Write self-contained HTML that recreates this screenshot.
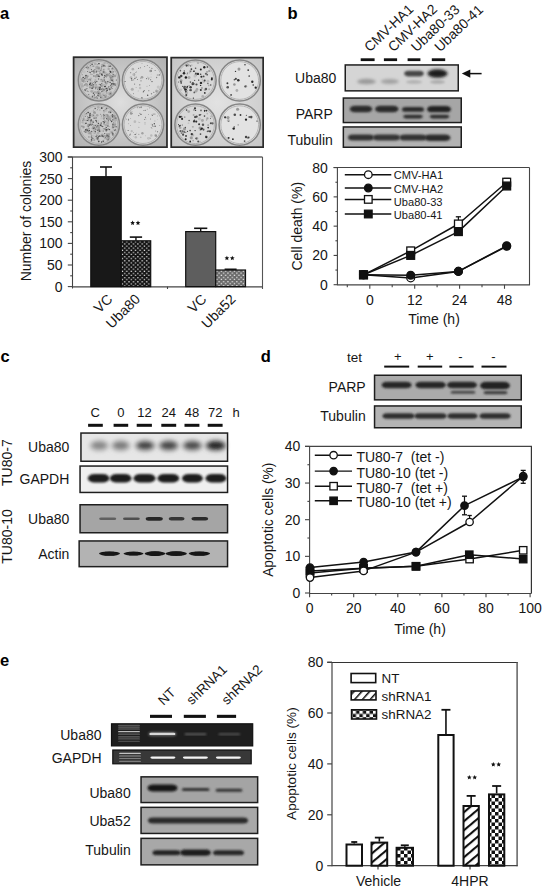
<!DOCTYPE html>
<html><head><meta charset="utf-8"><title>Figure</title>
<style>
html,body{margin:0;padding:0;background:#fff;width:543px;height:890px;overflow:hidden}
svg{display:block}
text{font-family:"Liberation Sans",sans-serif}
</style></head><body>
<svg width="543" height="890" viewBox="0 0 543 890">
<rect width="543" height="890" fill="#fff"/>

<defs>
<filter id="b0_4" x="-10%" y="-10%" width="120%" height="120%"><feGaussianBlur stdDeviation="0.4"/></filter>
<filter id="b0_5" x="-50%" y="-50%" width="200%" height="200%"><feGaussianBlur stdDeviation="0.5"/></filter>
<filter id="b0_6" x="-50%" y="-50%" width="200%" height="200%"><feGaussianBlur stdDeviation="0.6"/></filter>
<filter id="b0_7" x="-50%" y="-50%" width="200%" height="200%"><feGaussianBlur stdDeviation="0.7"/></filter>
<filter id="b0_8" x="-50%" y="-50%" width="200%" height="200%"><feGaussianBlur stdDeviation="0.8"/></filter>
<filter id="b0_9" x="-50%" y="-50%" width="200%" height="200%"><feGaussianBlur stdDeviation="0.9"/></filter>
<filter id="b1" x="-50%" y="-50%" width="200%" height="200%"><feGaussianBlur stdDeviation="1"/></filter>
<filter id="b1_1" x="-50%" y="-50%" width="200%" height="200%"><feGaussianBlur stdDeviation="1.1"/></filter>
<filter id="b1_2" x="-50%" y="-50%" width="200%" height="200%"><feGaussianBlur stdDeviation="1.2"/></filter>
<filter id="b1_3" x="-50%" y="-50%" width="200%" height="200%"><feGaussianBlur stdDeviation="1.3"/></filter>
<filter id="b1_4" x="-50%" y="-50%" width="200%" height="200%"><feGaussianBlur stdDeviation="1.4"/></filter>
<filter id="b1_5" x="-50%" y="-50%" width="200%" height="200%"><feGaussianBlur stdDeviation="1.5"/></filter>
<filter id="b2" x="-50%" y="-50%" width="200%" height="200%"><feGaussianBlur stdDeviation="2"/></filter>
<radialGradient id="pg1" cx="50%" cy="50%" r="70%"><stop offset="0" stop-color="#dedede"/><stop offset="1" stop-color="#b0b0b0"/></radialGradient>
<radialGradient id="pg2" cx="50%" cy="50%" r="70%"><stop offset="0" stop-color="#e2e2e2"/><stop offset="1" stop-color="#c6c6c6"/></radialGradient>
<pattern id="dotblk" patternUnits="userSpaceOnUse" width="4.4" height="4.2" x="121.2" y="240.8"><rect x="0.6" y="0.5" width="1.3" height="1.2" fill="#e6e6e6"/><rect x="2.8" y="2.6" width="1.3" height="1.2" fill="#e6e6e6"/></pattern>
<pattern id="dotgry" patternUnits="userSpaceOnUse" width="4.4" height="4.2" x="215.7" y="270"><rect x="0.6" y="0.5" width="1.3" height="1.2" fill="#f0f0f0"/><rect x="2.8" y="2.6" width="1.3" height="1.2" fill="#f0f0f0"/></pattern>
<pattern id="hatch" patternUnits="userSpaceOnUse" width="6.9" height="6.9" y="1.7" patternTransform="rotate(-40)">
<rect width="6.9" height="6.9" fill="#fff"/><rect x="0" y="0" width="6.9" height="2.1" fill="#111"/></pattern>
<pattern id="hatch2" patternUnits="userSpaceOnUse" width="5.8" height="5.8" patternTransform="rotate(-48)">
<rect width="5.8" height="5.8" fill="#fff"/><rect x="0" y="0" width="5.8" height="1.5" fill="#111"/></pattern>
<pattern id="check" patternUnits="userSpaceOnUse" width="7" height="7" x="488" y="0">
<rect width="7" height="7" fill="#fff"/><rect width="3.5" height="3.5" fill="#111"/><rect x="3.5" y="3.5" width="3.5" height="3.5" fill="#111"/></pattern>
<pattern id="check2" patternUnits="userSpaceOnUse" width="6.8" height="6.6" x="352.6" y="710.6">
<rect width="6.8" height="6.6" fill="#fff"/><rect x="3.4" width="3.4" height="3.3" fill="#111"/><rect y="3.3" width="3.4" height="3.3" fill="#111"/></pattern>
</defs>
<text x="0" y="18.8" font-size="16.5" text-anchor="start" font-weight="bold" fill="#000">a</text>
<g>
<rect x="72.8" y="56.4" width="95" height="91.6" fill="url(#pg1)" stroke="none" stroke-width="1"/>
<g filter="url(#b0_4)">
<circle cx="98.9" cy="80.3" r="20.6" fill="#cacaca" stroke="#858585" stroke-width="1.5"/>
<circle cx="98.9" cy="80.3" r="18.9" fill="none" stroke="#a8a8a8" stroke-width="0.8"/>
<circle cx="95.8" cy="86.6" r="0.74" fill="rgb(191,191,191)"/>
<circle cx="101.3" cy="75.3" r="0.75" fill="rgb(187,187,187)"/>
<circle cx="95.4" cy="80.1" r="1.08" fill="rgb(177,177,177)"/>
<circle cx="99.7" cy="93.6" r="1.44" fill="rgb(153,153,153)"/>
<circle cx="105.0" cy="86.3" r="1.22" fill="rgb(190,190,190)"/>
<circle cx="111.6" cy="85.5" r="1.58" fill="rgb(153,153,153)"/>
<circle cx="114.9" cy="85.1" r="1.08" fill="rgb(168,168,168)"/>
<circle cx="85.7" cy="76.9" r="1.43" fill="rgb(185,185,185)"/>
<circle cx="104.7" cy="92.7" r="0.87" fill="rgb(190,190,190)"/>
<circle cx="111.3" cy="89.0" r="0.75" fill="rgb(186,186,186)"/>
<circle cx="103.0" cy="94.6" r="1.40" fill="rgb(177,177,177)"/>
<circle cx="82.0" cy="84.0" r="0.97" fill="rgb(173,173,173)"/>
<circle cx="103.0" cy="65.8" r="0.77" fill="rgb(165,165,165)"/>
<circle cx="95.0" cy="92.3" r="1.36" fill="rgb(171,171,171)"/>
<circle cx="94.7" cy="97.6" r="1.16" fill="rgb(157,157,157)"/>
<circle cx="104.3" cy="89.4" r="1.08" fill="rgb(181,181,181)"/>
<circle cx="103.8" cy="79.1" r="1.22" fill="rgb(185,185,185)"/>
<circle cx="106.1" cy="73.2" r="1.02" fill="rgb(194,194,194)"/>
<circle cx="82.8" cy="80.6" r="1.46" fill="rgb(154,154,154)"/>
<circle cx="110.6" cy="76.1" r="0.76" fill="rgb(192,192,192)"/>
<circle cx="97.7" cy="70.4" r="1.59" fill="rgb(186,186,186)"/>
<circle cx="103.1" cy="71.7" r="1.50" fill="rgb(174,174,174)"/>
<circle cx="88.9" cy="94.6" r="0.85" fill="rgb(172,172,172)"/>
<circle cx="102.1" cy="83.2" r="0.82" fill="rgb(168,168,168)"/>
<circle cx="99.1" cy="91.6" r="0.77" fill="rgb(181,181,181)"/>
<circle cx="86.2" cy="84.5" r="1.44" fill="rgb(158,158,158)"/>
<circle cx="105.1" cy="73.1" r="1.59" fill="rgb(176,176,176)"/>
<circle cx="94.3" cy="70.2" r="0.84" fill="rgb(164,164,164)"/>
<circle cx="102.8" cy="88.1" r="0.71" fill="rgb(164,164,164)"/>
<circle cx="102.6" cy="73.6" r="0.70" fill="rgb(168,168,168)"/>
<circle cx="89.4" cy="85.6" r="0.99" fill="rgb(186,186,186)"/>
<circle cx="110.7" cy="92.1" r="1.29" fill="rgb(189,189,189)"/>
<circle cx="98.1" cy="68.2" r="1.42" fill="rgb(193,193,193)"/>
<circle cx="90.0" cy="87.4" r="1.13" fill="rgb(156,156,156)"/>
<circle cx="92.5" cy="84.9" r="1.10" fill="rgb(163,163,163)"/>
<circle cx="109.7" cy="89.2" r="0.70" fill="rgb(156,156,156)"/>
<circle cx="102.2" cy="85.0" r="1.25" fill="rgb(173,173,173)"/>
<circle cx="106.3" cy="83.8" r="0.83" fill="rgb(174,174,174)"/>
<circle cx="98.7" cy="90.9" r="1.13" fill="rgb(173,173,173)"/>
<circle cx="108.3" cy="88.6" r="1.13" fill="rgb(179,179,179)"/>
<circle cx="96.3" cy="86.6" r="1.37" fill="rgb(171,171,171)"/>
<circle cx="84.1" cy="82.3" r="0.72" fill="rgb(183,183,183)"/>
<circle cx="111.4" cy="76.3" r="1.32" fill="rgb(159,159,159)"/>
<circle cx="112.3" cy="72.2" r="1.58" fill="rgb(169,169,169)"/>
<circle cx="108.7" cy="68.9" r="1.17" fill="rgb(166,166,166)"/>
<circle cx="107.9" cy="74.4" r="1.18" fill="rgb(164,164,164)"/>
<circle cx="100.8" cy="70.1" r="1.25" fill="rgb(164,164,164)"/>
<circle cx="102.6" cy="65.1" r="1.43" fill="rgb(162,162,162)"/>
<circle cx="105.3" cy="66.2" r="0.88" fill="rgb(164,164,164)"/>
<circle cx="83.5" cy="81.0" r="1.41" fill="rgb(151,151,151)"/>
<circle cx="91.1" cy="81.7" r="1.56" fill="rgb(188,188,188)"/>
<circle cx="82.4" cy="86.0" r="1.56" fill="rgb(172,172,172)"/>
<circle cx="93.3" cy="86.7" r="1.12" fill="rgb(164,164,164)"/>
<circle cx="92.4" cy="91.0" r="1.46" fill="rgb(189,189,189)"/>
<circle cx="84.5" cy="82.2" r="0.78" fill="rgb(191,191,191)"/>
<circle cx="89.8" cy="65.8" r="1.38" fill="rgb(195,195,195)"/>
<circle cx="91.4" cy="81.3" r="1.00" fill="rgb(190,190,190)"/>
<circle cx="104.5" cy="63.5" r="1.12" fill="rgb(175,175,175)"/>
<circle cx="98.7" cy="75.1" r="0.85" fill="rgb(160,160,160)"/>
<circle cx="103.8" cy="85.3" r="1.43" fill="rgb(179,179,179)"/>
<circle cx="108.8" cy="93.3" r="1.29" fill="rgb(180,180,180)"/>
<circle cx="91.0" cy="91.1" r="0.72" fill="rgb(158,158,158)"/>
<circle cx="103.6" cy="65.7" r="1.17" fill="rgb(156,156,156)"/>
<circle cx="109.7" cy="75.5" r="1.44" fill="rgb(162,162,162)"/>
<circle cx="101.1" cy="89.1" r="1.15" fill="rgb(168,168,168)"/>
<circle cx="99.8" cy="70.1" r="1.08" fill="rgb(184,184,184)"/>
<circle cx="110.6" cy="92.9" r="1.51" fill="rgb(172,172,172)"/>
<circle cx="90.4" cy="66.4" r="1.08" fill="rgb(183,183,183)"/>
<circle cx="110.0" cy="74.0" r="0.84" fill="rgb(184,184,184)"/>
<circle cx="82.1" cy="79.2" r="1.25" fill="rgb(161,161,161)"/>
<circle cx="100.0" cy="73.4" r="1.13" fill="rgb(159,159,159)"/>
<circle cx="96.8" cy="67.0" r="1.31" fill="rgb(170,170,170)"/>
<circle cx="86.6" cy="77.9" r="1.49" fill="rgb(156,156,156)"/>
<circle cx="106.3" cy="83.1" r="1.40" fill="rgb(152,152,152)"/>
<circle cx="85.4" cy="79.6" r="1.10" fill="rgb(154,154,154)"/>
<circle cx="89.2" cy="72.0" r="0.88" fill="rgb(182,182,182)"/>
<circle cx="96.7" cy="92.9" r="1.16" fill="rgb(180,180,180)"/>
<circle cx="99.1" cy="93.3" r="1.53" fill="rgb(166,166,166)"/>
<circle cx="105.2" cy="75.2" r="0.82" fill="rgb(178,178,178)"/>
<circle cx="107.5" cy="88.6" r="1.30" fill="rgb(154,154,154)"/>
<circle cx="91.4" cy="83.9" r="1.41" fill="rgb(169,169,169)"/>
<circle cx="104.5" cy="76.0" r="1.28" fill="rgb(195,195,195)"/>
<circle cx="92.9" cy="87.0" r="1.57" fill="rgb(158,158,158)"/>
<circle cx="102.2" cy="97.5" r="1.50" fill="rgb(175,175,175)"/>
<circle cx="106.6" cy="92.9" r="0.85" fill="rgb(164,164,164)"/>
<circle cx="87.2" cy="85.7" r="1.08" fill="rgb(171,171,171)"/>
<circle cx="95.5" cy="84.6" r="0.72" fill="rgb(173,173,173)"/>
<circle cx="87.6" cy="76.3" r="1.05" fill="rgb(151,151,151)"/>
<circle cx="89.2" cy="79.2" r="0.80" fill="rgb(154,154,154)"/>
<circle cx="106.4" cy="76.1" r="0.78" fill="rgb(156,156,156)"/>
<circle cx="96.5" cy="97.3" r="0.94" fill="rgb(161,161,161)"/>
<circle cx="106.9" cy="88.8" r="1.44" fill="rgb(193,193,193)"/>
<circle cx="98.5" cy="87.2" r="1.21" fill="rgb(182,182,182)"/>
<circle cx="97.2" cy="75.2" r="1.42" fill="rgb(153,153,153)"/>
<circle cx="105.8" cy="95.9" r="1.54" fill="rgb(167,167,167)"/>
<circle cx="88.2" cy="68.2" r="1.25" fill="rgb(155,155,155)"/>
<circle cx="100.5" cy="89.4" r="1.11" fill="rgb(157,157,157)"/>
<circle cx="91.8" cy="91.6" r="1.26" fill="rgb(167,167,167)"/>
<circle cx="113.5" cy="84.4" r="1.57" fill="rgb(157,157,157)"/>
<circle cx="98.3" cy="87.9" r="1.27" fill="rgb(169,169,169)"/>
<circle cx="90.9" cy="78.7" r="1.15" fill="rgb(178,178,178)"/>
<circle cx="103.5" cy="89.8" r="1.60" fill="rgb(151,151,151)"/>
<circle cx="101.3" cy="80.9" r="1.20" fill="rgb(182,182,182)"/>
<circle cx="103.5" cy="91.8" r="0.80" fill="rgb(178,178,178)"/>
<circle cx="103.9" cy="69.6" r="1.19" fill="rgb(181,181,181)"/>
<circle cx="112.5" cy="68.9" r="1.32" fill="rgb(169,169,169)"/>
<circle cx="109.4" cy="79.1" r="1.36" fill="rgb(195,195,195)"/>
<circle cx="110.3" cy="94.1" r="1.45" fill="rgb(153,153,153)"/>
<circle cx="113.1" cy="81.6" r="1.09" fill="rgb(166,166,166)"/>
<circle cx="112.7" cy="85.3" r="1.48" fill="rgb(174,174,174)"/>
<circle cx="94.3" cy="71.9" r="1.32" fill="rgb(165,165,165)"/>
<circle cx="106.3" cy="82.5" r="1.10" fill="rgb(167,167,167)"/>
<circle cx="97.4" cy="97.9" r="0.99" fill="rgb(185,185,185)"/>
<circle cx="115.4" cy="83.9" r="1.02" fill="rgb(163,163,163)"/>
<circle cx="110.0" cy="80.4" r="0.95" fill="rgb(180,180,180)"/>
<circle cx="93.9" cy="72.9" r="0.78" fill="rgb(150,150,150)"/>
<circle cx="101.7" cy="74.1" r="0.74" fill="rgb(187,187,187)"/>
<circle cx="108.7" cy="81.7" r="0.78" fill="rgb(164,164,164)"/>
<circle cx="114.9" cy="75.9" r="1.29" fill="rgb(159,159,159)"/>
<circle cx="95.3" cy="63.8" r="1.39" fill="rgb(174,174,174)"/>
<circle cx="96.6" cy="67.9" r="1.35" fill="rgb(168,168,168)"/>
<circle cx="96.6" cy="77.3" r="1.50" fill="rgb(195,195,195)"/>
<circle cx="88.2" cy="69.2" r="0.83" fill="rgb(182,182,182)"/>
<circle cx="86.3" cy="78.4" r="1.44" fill="rgb(151,151,151)"/>
<circle cx="84.2" cy="71.7" r="1.56" fill="rgb(193,193,193)"/>
<circle cx="95.6" cy="76.2" r="0.82" fill="rgb(152,152,152)"/>
<circle cx="95.2" cy="84.8" r="1.20" fill="rgb(178,178,178)"/>
<circle cx="89.0" cy="70.1" r="0.92" fill="rgb(193,193,193)"/>
<circle cx="97.8" cy="92.4" r="1.37" fill="rgb(154,154,154)"/>
<circle cx="85.7" cy="80.1" r="1.17" fill="rgb(192,192,192)"/>
<circle cx="98.6" cy="67.9" r="1.46" fill="rgb(154,154,154)"/>
<circle cx="100.4" cy="95.9" r="1.37" fill="rgb(164,164,164)"/>
<circle cx="111.4" cy="78.4" r="0.77" fill="rgb(174,174,174)"/>
<circle cx="107.1" cy="75.2" r="1.26" fill="rgb(152,152,152)"/>
<circle cx="95.8" cy="76.4" r="1.00" fill="rgb(159,159,159)"/>
<circle cx="90.2" cy="68.1" r="1.21" fill="rgb(189,189,189)"/>
<circle cx="103.3" cy="80.6" r="1.58" fill="rgb(167,167,167)"/>
<circle cx="105.7" cy="85.2" r="0.96" fill="rgb(181,181,181)"/>
<circle cx="86.7" cy="79.0" r="1.39" fill="rgb(179,179,179)"/>
<circle cx="112.2" cy="79.7" r="1.58" fill="rgb(169,169,169)"/>
<circle cx="101.1" cy="79.4" r="0.56" fill="rgb(114,114,114)"/>
<circle cx="110.7" cy="77.9" r="0.47" fill="rgb(76,76,76)"/>
<circle cx="113.9" cy="71.6" r="0.38" fill="rgb(61,61,61)"/>
<circle cx="107.1" cy="90.4" r="0.78" fill="rgb(66,66,66)"/>
<circle cx="87.5" cy="71.6" r="0.48" fill="rgb(64,64,64)"/>
<circle cx="96.4" cy="72.0" r="0.75" fill="rgb(112,112,112)"/>
<circle cx="93.3" cy="84.7" r="0.78" fill="rgb(107,107,107)"/>
<circle cx="86.2" cy="88.9" r="0.54" fill="rgb(98,98,98)"/>
<circle cx="92.2" cy="95.4" r="0.35" fill="rgb(93,93,93)"/>
<circle cx="102.2" cy="75.0" r="0.77" fill="rgb(51,51,51)"/>
<circle cx="106.8" cy="74.7" r="0.52" fill="rgb(100,100,100)"/>
<circle cx="86.0" cy="91.0" r="0.38" fill="rgb(104,104,104)"/>
<circle cx="99.5" cy="63.7" r="0.48" fill="rgb(56,56,56)"/>
<circle cx="103.8" cy="72.0" r="0.77" fill="rgb(81,81,81)"/>
<circle cx="110.6" cy="78.1" r="0.49" fill="rgb(97,97,97)"/>
<circle cx="101.5" cy="68.8" r="0.36" fill="rgb(130,130,130)"/>
<circle cx="85.3" cy="90.2" r="0.60" fill="rgb(76,76,76)"/>
<circle cx="98.1" cy="76.4" r="0.68" fill="rgb(107,107,107)"/>
<circle cx="93.9" cy="75.9" r="0.74" fill="rgb(112,112,112)"/>
<circle cx="115.4" cy="85.5" r="0.41" fill="rgb(110,110,110)"/>
<circle cx="90.7" cy="85.2" r="0.47" fill="rgb(83,83,83)"/>
<circle cx="91.6" cy="85.2" r="0.57" fill="rgb(100,100,100)"/>
<circle cx="109.4" cy="90.2" r="0.38" fill="rgb(114,114,114)"/>
<circle cx="109.4" cy="73.2" r="0.45" fill="rgb(92,92,92)"/>
<circle cx="111.0" cy="80.0" r="0.41" fill="rgb(74,74,74)"/>
<circle cx="99.2" cy="87.8" r="0.60" fill="rgb(90,90,90)"/>
<circle cx="99.5" cy="89.4" r="0.61" fill="rgb(52,52,52)"/>
<circle cx="98.9" cy="68.7" r="0.54" fill="rgb(117,117,117)"/>
<circle cx="101.2" cy="89.4" r="0.69" fill="rgb(113,113,113)"/>
<circle cx="95.9" cy="97.7" r="0.41" fill="rgb(114,114,114)"/>
<circle cx="83.2" cy="77.4" r="0.73" fill="rgb(61,61,61)"/>
<circle cx="97.7" cy="89.2" r="0.53" fill="rgb(107,107,107)"/>
<circle cx="89.8" cy="84.5" r="0.72" fill="rgb(52,52,52)"/>
<circle cx="107.1" cy="88.7" r="0.69" fill="rgb(110,110,110)"/>
<circle cx="111.2" cy="77.8" r="0.38" fill="rgb(117,117,117)"/>
<circle cx="109.8" cy="66.3" r="0.46" fill="rgb(63,63,63)"/>
<circle cx="100.1" cy="87.2" r="0.79" fill="rgb(63,63,63)"/>
<circle cx="113.2" cy="74.8" r="0.64" fill="rgb(108,108,108)"/>
<circle cx="112.6" cy="88.4" r="0.35" fill="rgb(66,66,66)"/>
<circle cx="100.8" cy="97.5" r="0.64" fill="rgb(88,88,88)"/>
<circle cx="112.8" cy="77.0" r="0.59" fill="rgb(105,105,105)"/>
<circle cx="97.0" cy="74.6" r="0.38" fill="rgb(117,117,117)"/>
<circle cx="106.3" cy="77.6" r="0.47" fill="rgb(126,126,126)"/>
<circle cx="112.1" cy="80.4" r="0.80" fill="rgb(85,85,85)"/>
<circle cx="112.9" cy="76.6" r="0.75" fill="rgb(110,110,110)"/>
<circle cx="85.8" cy="78.1" r="0.36" fill="rgb(102,102,102)"/>
<circle cx="96.1" cy="70.7" r="0.36" fill="rgb(113,113,113)"/>
<circle cx="109.8" cy="70.7" r="0.39" fill="rgb(79,79,79)"/>
<circle cx="90.3" cy="65.3" r="0.45" fill="rgb(54,54,54)"/>
<circle cx="93.8" cy="65.9" r="0.51" fill="rgb(100,100,100)"/>
<circle cx="104.0" cy="95.5" r="0.68" fill="rgb(114,114,114)"/>
<circle cx="110.5" cy="85.5" r="0.44" fill="rgb(74,74,74)"/>
<circle cx="99.9" cy="88.7" r="0.69" fill="rgb(87,87,87)"/>
<circle cx="109.9" cy="89.3" r="0.62" fill="rgb(78,78,78)"/>
<circle cx="81.8" cy="81.9" r="0.38" fill="rgb(126,126,126)"/>
<circle cx="105.7" cy="89.3" r="0.45" fill="rgb(126,126,126)"/>
<circle cx="101.5" cy="83.5" r="0.38" fill="rgb(100,100,100)"/>
<circle cx="84.5" cy="85.0" r="0.49" fill="rgb(64,64,64)"/>
<circle cx="116.3" cy="80.0" r="0.50" fill="rgb(73,73,73)"/>
<circle cx="91.4" cy="69.6" r="0.56" fill="rgb(89,89,89)"/>
<circle cx="93.2" cy="70.8" r="0.52" fill="rgb(92,92,92)"/>
<circle cx="93.3" cy="82.4" r="0.39" fill="rgb(60,60,60)"/>
<circle cx="88.4" cy="94.4" r="0.41" fill="rgb(76,76,76)"/>
<circle cx="87.4" cy="91.1" r="0.49" fill="rgb(105,105,105)"/>
<circle cx="111.8" cy="88.2" r="0.44" fill="rgb(119,119,119)"/>
<circle cx="105.8" cy="76.5" r="0.51" fill="rgb(110,110,110)"/>
<circle cx="110.2" cy="82.5" r="0.72" fill="rgb(101,101,101)"/>
<circle cx="102.2" cy="81.1" r="0.38" fill="rgb(57,57,57)"/>
<circle cx="98.2" cy="95.8" r="0.75" fill="rgb(93,93,93)"/>
<circle cx="92.1" cy="88.2" r="0.78" fill="rgb(55,55,55)"/>
<circle cx="97.7" cy="95.5" r="0.49" fill="rgb(85,85,85)"/>
<circle cx="94.4" cy="94.9" r="0.62" fill="rgb(58,58,58)"/>
<circle cx="107.5" cy="81.6" r="0.56" fill="rgb(109,109,109)"/>
<circle cx="109.6" cy="77.1" r="0.46" fill="rgb(105,105,105)"/>
<circle cx="101.5" cy="74.3" r="0.57" fill="rgb(51,51,51)"/>
<circle cx="103.9" cy="65.7" r="0.72" fill="rgb(69,69,69)"/>
<circle cx="90.8" cy="73.9" r="0.49" fill="rgb(96,96,96)"/>
<circle cx="101.8" cy="66.7" r="0.58" fill="rgb(100,100,100)"/>
<circle cx="99.1" cy="71.4" r="0.38" fill="rgb(54,54,54)"/>
<circle cx="85.7" cy="81.8" r="0.42" fill="rgb(104,104,104)"/>
<circle cx="112.2" cy="68.3" r="0.47" fill="rgb(60,60,60)"/>
<circle cx="101.9" cy="91.6" r="0.79" fill="rgb(107,107,107)"/>
<circle cx="101.9" cy="86.1" r="0.56" fill="rgb(80,80,80)"/>
<circle cx="98.7" cy="63.7" r="0.65" fill="rgb(65,65,65)"/>
<circle cx="100.7" cy="70.7" r="0.48" fill="rgb(84,84,84)"/>
<circle cx="88.1" cy="91.4" r="0.44" fill="rgb(81,81,81)"/>
<circle cx="102.3" cy="88.3" r="0.48" fill="rgb(124,124,124)"/>
<circle cx="100.6" cy="84.5" r="0.46" fill="rgb(81,81,81)"/>
<circle cx="90.3" cy="79.9" r="0.71" fill="rgb(109,109,109)"/>
<circle cx="104.6" cy="80.0" r="0.56" fill="rgb(79,79,79)"/>
<circle cx="108.2" cy="65.8" r="0.37" fill="rgb(87,87,87)"/>
<circle cx="99.3" cy="84.3" r="0.62" fill="rgb(124,124,124)"/>
<circle cx="100.6" cy="84.9" r="0.58" fill="rgb(72,72,72)"/>
<circle cx="90.2" cy="83.2" r="0.70" fill="rgb(50,50,50)"/>
<circle cx="109.8" cy="88.9" r="0.63" fill="rgb(77,77,77)"/>
<circle cx="109.1" cy="82.7" r="0.37" fill="rgb(82,82,82)"/>
<circle cx="113.9" cy="84.0" r="0.76" fill="rgb(51,51,51)"/>
<circle cx="103.7" cy="69.8" r="0.52" fill="rgb(129,129,129)"/>
<circle cx="95.8" cy="87.8" r="0.71" fill="rgb(120,120,120)"/>
<circle cx="87.5" cy="81.5" r="0.71" fill="rgb(120,120,120)"/>
<circle cx="106.3" cy="91.2" r="0.64" fill="rgb(100,100,100)"/>
<circle cx="95.0" cy="69.4" r="0.48" fill="rgb(89,89,89)"/>
<circle cx="95.4" cy="82.3" r="0.69" fill="rgb(95,95,95)"/>
<circle cx="96.8" cy="81.5" r="0.69" fill="rgb(96,96,96)"/>
<circle cx="92.0" cy="71.4" r="0.53" fill="rgb(50,50,50)"/>
<circle cx="92.4" cy="83.2" r="0.40" fill="rgb(61,61,61)"/>
<circle cx="84.8" cy="89.7" r="0.56" fill="rgb(70,70,70)"/>
<circle cx="101.7" cy="83.3" r="0.41" fill="rgb(100,100,100)"/>
<circle cx="110.9" cy="87.8" r="0.52" fill="rgb(114,114,114)"/>
<circle cx="103.9" cy="89.7" r="0.42" fill="rgb(71,71,71)"/>
<circle cx="104.2" cy="77.6" r="0.57" fill="rgb(75,75,75)"/>
<circle cx="93.7" cy="95.9" r="0.37" fill="rgb(111,111,111)"/>
<circle cx="93.4" cy="93.2" r="0.64" fill="rgb(61,61,61)"/>
<circle cx="110.6" cy="72.3" r="0.72" fill="rgb(70,70,70)"/>
<circle cx="88.3" cy="67.4" r="0.63" fill="rgb(128,128,128)"/>
<circle cx="108.2" cy="66.8" r="0.43" fill="rgb(77,77,77)"/>
<circle cx="115.7" cy="84.8" r="0.42" fill="rgb(95,95,95)"/>
<circle cx="105.3" cy="86.5" r="0.68" fill="rgb(74,74,74)"/>
<circle cx="112.0" cy="83.7" r="0.69" fill="rgb(54,54,54)"/>
<circle cx="93.8" cy="71.4" r="0.53" fill="rgb(108,108,108)"/>
<circle cx="85.3" cy="75.9" r="0.49" fill="rgb(103,103,103)"/>
<circle cx="95.7" cy="88.7" r="0.53" fill="rgb(97,97,97)"/>
<circle cx="87.6" cy="84.2" r="0.36" fill="rgb(129,129,129)"/>
<circle cx="111.1" cy="79.2" r="0.55" fill="rgb(129,129,129)"/>
<circle cx="101.2" cy="68.3" r="0.43" fill="rgb(110,110,110)"/>
<circle cx="95.1" cy="83.0" r="0.51" fill="rgb(96,96,96)"/>
<circle cx="108.9" cy="86.8" r="0.58" fill="rgb(55,55,55)"/>
<circle cx="105.2" cy="81.9" r="0.76" fill="rgb(90,90,90)"/>
<circle cx="101.1" cy="67.6" r="0.37" fill="rgb(114,114,114)"/>
<circle cx="110.4" cy="71.4" r="0.70" fill="rgb(53,53,53)"/>
<circle cx="110.1" cy="66.2" r="0.68" fill="rgb(64,64,64)"/>
<circle cx="105.1" cy="97.0" r="0.57" fill="rgb(71,71,71)"/>
<circle cx="92.9" cy="66.2" r="0.45" fill="rgb(94,94,94)"/>
<circle cx="92.0" cy="74.5" r="0.50" fill="rgb(128,128,128)"/>
<circle cx="96.4" cy="96.4" r="0.41" fill="rgb(114,114,114)"/>
<circle cx="111.1" cy="77.5" r="0.62" fill="rgb(128,128,128)"/>
<circle cx="88.7" cy="79.9" r="0.37" fill="rgb(73,73,73)"/>
<circle cx="87.1" cy="88.5" r="0.48" fill="rgb(91,91,91)"/>
<circle cx="104.8" cy="75.8" r="0.70" fill="rgb(64,64,64)"/>
<circle cx="99.4" cy="76.4" r="0.74" fill="rgb(107,107,107)"/>
<circle cx="86.0" cy="75.6" r="0.75" fill="rgb(63,63,63)"/>
<circle cx="98.7" cy="93.5" r="0.74" fill="rgb(97,97,97)"/>
<circle cx="97.2" cy="98.1" r="0.61" fill="rgb(96,96,96)"/>
<circle cx="96.4" cy="84.8" r="0.45" fill="rgb(128,128,128)"/>
<circle cx="98.7" cy="76.3" r="0.72" fill="rgb(82,82,82)"/>
<circle cx="92.4" cy="96.7" r="0.74" fill="rgb(90,90,90)"/>
<circle cx="97.2" cy="64.8" r="0.45" fill="rgb(87,87,87)"/>
<circle cx="90.1" cy="72.4" r="0.58" fill="rgb(56,56,56)"/>
<circle cx="104.7" cy="86.6" r="0.64" fill="rgb(52,52,52)"/>
<circle cx="111.7" cy="84.8" r="0.49" fill="rgb(116,116,116)"/>
<circle cx="93.6" cy="87.0" r="0.61" fill="rgb(125,125,125)"/>
<circle cx="106.2" cy="88.4" r="0.72" fill="rgb(70,70,70)"/>
<circle cx="110.4" cy="93.3" r="0.46" fill="rgb(69,69,69)"/>
<circle cx="94.6" cy="81.7" r="0.42" fill="rgb(84,84,84)"/>
<circle cx="91.3" cy="85.6" r="0.36" fill="rgb(121,121,121)"/>
<circle cx="109.7" cy="71.6" r="0.61" fill="rgb(127,127,127)"/>
<circle cx="113.1" cy="74.4" r="0.46" fill="rgb(50,50,50)"/>
<circle cx="111.5" cy="83.9" r="0.53" fill="rgb(80,80,80)"/>
<circle cx="108.2" cy="94.8" r="0.40" fill="rgb(128,128,128)"/>
<circle cx="82.3" cy="74.8" r="0.41" fill="rgb(75,75,75)"/>
<circle cx="84.6" cy="78.6" r="0.64" fill="rgb(103,103,103)"/>
<circle cx="101.8" cy="73.4" r="0.49" fill="rgb(88,88,88)"/>
<circle cx="86.3" cy="67.5" r="0.68" fill="rgb(111,111,111)"/>
<circle cx="98.6" cy="78.9" r="0.73" fill="rgb(109,109,109)"/>
<circle cx="111.6" cy="87.4" r="0.43" fill="rgb(63,63,63)"/>
<circle cx="97.9" cy="94.7" r="0.41" fill="rgb(83,83,83)"/>
<circle cx="96.7" cy="71.3" r="0.60" fill="rgb(105,105,105)"/>
<circle cx="92.1" cy="64.4" r="0.79" fill="rgb(87,87,87)"/>
<circle cx="87.8" cy="66.5" r="0.45" fill="rgb(114,114,114)"/>
<circle cx="108.0" cy="81.2" r="0.46" fill="rgb(75,75,75)"/>
<circle cx="143" cy="80.3" r="20.6" fill="#dadada" stroke="#858585" stroke-width="1.5"/>
<circle cx="143" cy="80.3" r="18.9" fill="none" stroke="#a8a8a8" stroke-width="0.8"/>
<circle cx="157.6" cy="75.0" r="0.87" fill="rgb(170,170,170)"/>
<circle cx="132.3" cy="89.3" r="1.52" fill="rgb(174,174,174)"/>
<circle cx="132.8" cy="69.3" r="1.46" fill="rgb(192,192,192)"/>
<circle cx="131.0" cy="77.5" r="1.33" fill="rgb(183,183,183)"/>
<circle cx="150.4" cy="71.0" r="1.21" fill="rgb(164,164,164)"/>
<circle cx="140.1" cy="88.0" r="1.23" fill="rgb(189,189,189)"/>
<circle cx="136.2" cy="77.3" r="0.72" fill="rgb(152,152,152)"/>
<circle cx="156.6" cy="91.1" r="1.58" fill="rgb(172,172,172)"/>
<circle cx="142.0" cy="77.3" r="1.32" fill="rgb(158,158,158)"/>
<circle cx="133.0" cy="69.1" r="0.76" fill="rgb(152,152,152)"/>
<circle cx="133.9" cy="74.5" r="1.50" fill="rgb(184,184,184)"/>
<circle cx="158.3" cy="87.1" r="1.55" fill="rgb(195,195,195)"/>
<circle cx="149.4" cy="85.4" r="0.34" fill="rgb(74,74,74)"/>
<circle cx="159.3" cy="74.9" r="0.60" fill="rgb(81,81,81)"/>
<circle cx="149.5" cy="67.6" r="0.41" fill="rgb(82,82,82)"/>
<circle cx="153.8" cy="92.2" r="0.56" fill="rgb(107,107,107)"/>
<circle cx="138.1" cy="90.9" r="0.31" fill="rgb(102,102,102)"/>
<circle cx="146.6" cy="78.6" r="0.60" fill="rgb(111,111,111)"/>
<circle cx="144.7" cy="66.4" r="0.49" fill="rgb(106,106,106)"/>
<circle cx="140.7" cy="78.2" r="0.47" fill="rgb(125,125,125)"/>
<circle cx="137.4" cy="79.6" r="0.49" fill="rgb(76,76,76)"/>
<circle cx="134.9" cy="78.3" r="0.64" fill="rgb(81,81,81)"/>
<circle cx="134.4" cy="75.9" r="0.47" fill="rgb(137,137,137)"/>
<circle cx="147.7" cy="95.3" r="0.69" fill="rgb(70,70,70)"/>
<circle cx="139.8" cy="84.8" r="0.58" fill="rgb(93,93,93)"/>
<circle cx="156.6" cy="77.5" r="0.68" fill="rgb(135,135,135)"/>
<circle cx="141.8" cy="97.7" r="0.41" fill="rgb(97,97,97)"/>
<circle cx="151.0" cy="77.0" r="0.37" fill="rgb(80,80,80)"/>
<circle cx="125.1" cy="81.4" r="0.52" fill="rgb(83,83,83)"/>
<circle cx="135.6" cy="72.6" r="0.46" fill="rgb(120,120,120)"/>
<circle cx="155.1" cy="70.5" r="0.47" fill="rgb(73,73,73)"/>
<circle cx="136.1" cy="87.4" r="0.47" fill="rgb(139,139,139)"/>
<circle cx="131.9" cy="80.2" r="0.65" fill="rgb(99,99,99)"/>
<circle cx="149.0" cy="78.1" r="0.54" fill="rgb(147,147,147)"/>
<circle cx="136.6" cy="71.9" r="0.43" fill="rgb(89,89,89)"/>
<circle cx="151.2" cy="71.4" r="0.52" fill="rgb(111,111,111)"/>
<circle cx="148.8" cy="90.7" r="0.61" fill="rgb(144,144,144)"/>
<circle cx="144.2" cy="90.6" r="0.56" fill="rgb(100,100,100)"/>
<circle cx="133.7" cy="79.8" r="0.60" fill="rgb(149,149,149)"/>
<circle cx="147.0" cy="86.2" r="0.40" fill="rgb(111,111,111)"/>
<circle cx="134.5" cy="73.9" r="0.39" fill="rgb(94,94,94)"/>
<circle cx="142.0" cy="97.9" r="0.70" fill="rgb(91,91,91)"/>
<circle cx="148.6" cy="79.0" r="0.45" fill="rgb(88,88,88)"/>
<circle cx="147.3" cy="65.5" r="0.47" fill="rgb(95,95,95)"/>
<circle cx="156.3" cy="91.2" r="0.41" fill="rgb(119,119,119)"/>
<circle cx="141.0" cy="80.8" r="0.64" fill="rgb(125,125,125)"/>
<circle cx="138.6" cy="68.4" r="0.55" fill="rgb(129,129,129)"/>
<circle cx="152.0" cy="81.6" r="0.60" fill="rgb(70,70,70)"/>
<circle cx="142.0" cy="63.2" r="0.47" fill="rgb(143,143,143)"/>
<circle cx="130.6" cy="72.7" r="0.64" fill="rgb(144,144,144)"/>
<circle cx="151.9" cy="68.4" r="0.56" fill="rgb(128,128,128)"/>
<circle cx="134.6" cy="84.1" r="0.58" fill="rgb(123,123,123)"/>
<circle cx="143.5" cy="91.7" r="0.59" fill="rgb(90,90,90)"/>
<circle cx="143.0" cy="92.0" r="0.48" fill="rgb(149,149,149)"/>
<circle cx="151.2" cy="70.2" r="0.56" fill="rgb(93,93,93)"/>
<circle cx="151.1" cy="74.0" r="0.30" fill="rgb(132,132,132)"/>
<circle cx="147.9" cy="77.1" r="0.40" fill="rgb(97,97,97)"/>
<circle cx="151.5" cy="93.8" r="0.68" fill="rgb(136,136,136)"/>
<circle cx="133.4" cy="93.8" r="0.48" fill="rgb(96,96,96)"/>
<circle cx="140.4" cy="67.7" r="0.56" fill="rgb(117,117,117)"/>
<circle cx="131.6" cy="78.7" r="0.68" fill="rgb(96,96,96)"/>
<circle cx="150.7" cy="79.8" r="0.51" fill="rgb(85,85,85)"/>
<circle cx="98.9" cy="124.6" r="20.6" fill="#cacaca" stroke="#858585" stroke-width="1.5"/>
<circle cx="98.9" cy="124.6" r="18.9" fill="none" stroke="#a8a8a8" stroke-width="0.8"/>
<circle cx="97.1" cy="110.6" r="0.75" fill="rgb(190,190,190)"/>
<circle cx="97.2" cy="135.8" r="0.77" fill="rgb(150,150,150)"/>
<circle cx="111.2" cy="117.4" r="1.02" fill="rgb(193,193,193)"/>
<circle cx="98.1" cy="133.1" r="1.55" fill="rgb(175,175,175)"/>
<circle cx="90.6" cy="123.2" r="1.12" fill="rgb(175,175,175)"/>
<circle cx="107.8" cy="139.5" r="1.43" fill="rgb(154,154,154)"/>
<circle cx="90.7" cy="115.4" r="1.35" fill="rgb(185,185,185)"/>
<circle cx="101.6" cy="118.3" r="1.27" fill="rgb(192,192,192)"/>
<circle cx="105.7" cy="109.8" r="1.60" fill="rgb(179,179,179)"/>
<circle cx="99.8" cy="110.1" r="1.02" fill="rgb(180,180,180)"/>
<circle cx="104.4" cy="117.1" r="1.32" fill="rgb(174,174,174)"/>
<circle cx="113.6" cy="123.0" r="0.70" fill="rgb(180,180,180)"/>
<circle cx="97.2" cy="115.2" r="1.29" fill="rgb(165,165,165)"/>
<circle cx="93.5" cy="135.9" r="1.27" fill="rgb(189,189,189)"/>
<circle cx="93.1" cy="115.5" r="1.47" fill="rgb(169,169,169)"/>
<circle cx="114.2" cy="130.3" r="1.41" fill="rgb(170,170,170)"/>
<circle cx="109.3" cy="137.3" r="1.22" fill="rgb(190,190,190)"/>
<circle cx="94.4" cy="117.7" r="1.29" fill="rgb(154,154,154)"/>
<circle cx="98.9" cy="130.3" r="1.47" fill="rgb(159,159,159)"/>
<circle cx="103.7" cy="135.7" r="0.89" fill="rgb(159,159,159)"/>
<circle cx="88.1" cy="132.2" r="1.50" fill="rgb(189,189,189)"/>
<circle cx="86.5" cy="114.6" r="1.51" fill="rgb(192,192,192)"/>
<circle cx="85.2" cy="120.3" r="0.88" fill="rgb(169,169,169)"/>
<circle cx="94.3" cy="112.3" r="1.30" fill="rgb(178,178,178)"/>
<circle cx="103.5" cy="128.8" r="0.91" fill="rgb(176,176,176)"/>
<circle cx="107.0" cy="134.3" r="1.14" fill="rgb(153,153,153)"/>
<circle cx="111.4" cy="116.2" r="1.15" fill="rgb(165,165,165)"/>
<circle cx="82.7" cy="120.5" r="0.84" fill="rgb(150,150,150)"/>
<circle cx="92.4" cy="138.2" r="1.30" fill="rgb(181,181,181)"/>
<circle cx="104.8" cy="115.3" r="1.60" fill="rgb(176,176,176)"/>
<circle cx="95.5" cy="117.8" r="1.27" fill="rgb(173,173,173)"/>
<circle cx="112.7" cy="127.1" r="1.36" fill="rgb(193,193,193)"/>
<circle cx="115.1" cy="124.5" r="1.16" fill="rgb(156,156,156)"/>
<circle cx="81.9" cy="126.2" r="0.89" fill="rgb(152,152,152)"/>
<circle cx="93.4" cy="127.8" r="1.48" fill="rgb(156,156,156)"/>
<circle cx="90.6" cy="133.8" r="1.20" fill="rgb(183,183,183)"/>
<circle cx="107.1" cy="119.6" r="1.08" fill="rgb(171,171,171)"/>
<circle cx="83.5" cy="119.2" r="1.02" fill="rgb(168,168,168)"/>
<circle cx="88.5" cy="125.0" r="1.49" fill="rgb(167,167,167)"/>
<circle cx="94.3" cy="131.3" r="1.41" fill="rgb(181,181,181)"/>
<circle cx="94.0" cy="133.5" r="0.81" fill="rgb(169,169,169)"/>
<circle cx="104.1" cy="123.7" r="1.06" fill="rgb(152,152,152)"/>
<circle cx="88.1" cy="120.8" r="0.74" fill="rgb(186,186,186)"/>
<circle cx="98.5" cy="125.9" r="1.44" fill="rgb(162,162,162)"/>
<circle cx="83.3" cy="127.1" r="1.41" fill="rgb(153,153,153)"/>
<circle cx="110.8" cy="117.0" r="0.83" fill="rgb(189,189,189)"/>
<circle cx="92.0" cy="111.3" r="0.77" fill="rgb(193,193,193)"/>
<circle cx="112.8" cy="128.1" r="1.39" fill="rgb(190,190,190)"/>
<circle cx="105.1" cy="129.2" r="1.08" fill="rgb(152,152,152)"/>
<circle cx="112.9" cy="134.9" r="1.03" fill="rgb(150,150,150)"/>
<circle cx="105.9" cy="110.3" r="1.34" fill="rgb(185,185,185)"/>
<circle cx="103.9" cy="118.7" r="0.99" fill="rgb(152,152,152)"/>
<circle cx="85.8" cy="130.7" r="1.15" fill="rgb(153,153,153)"/>
<circle cx="82.7" cy="122.3" r="1.22" fill="rgb(176,176,176)"/>
<circle cx="109.4" cy="118.7" r="1.31" fill="rgb(150,150,150)"/>
<circle cx="84.0" cy="114.6" r="1.58" fill="rgb(192,192,192)"/>
<circle cx="87.5" cy="126.4" r="0.77" fill="rgb(156,156,156)"/>
<circle cx="82.1" cy="127.6" r="0.71" fill="rgb(190,190,190)"/>
<circle cx="113.8" cy="125.0" r="1.59" fill="rgb(157,157,157)"/>
<circle cx="104.2" cy="118.1" r="0.82" fill="rgb(157,157,157)"/>
<circle cx="114.1" cy="126.3" r="1.11" fill="rgb(165,165,165)"/>
<circle cx="98.3" cy="107.3" r="1.40" fill="rgb(173,173,173)"/>
<circle cx="95.1" cy="108.4" r="0.96" fill="rgb(155,155,155)"/>
<circle cx="87.0" cy="120.1" r="1.54" fill="rgb(192,192,192)"/>
<circle cx="98.5" cy="142.3" r="0.73" fill="rgb(195,195,195)"/>
<circle cx="114.6" cy="130.9" r="1.44" fill="rgb(193,193,193)"/>
<circle cx="107.7" cy="129.4" r="0.85" fill="rgb(188,188,188)"/>
<circle cx="107.0" cy="115.0" r="0.98" fill="rgb(153,153,153)"/>
<circle cx="113.5" cy="119.7" r="1.31" fill="rgb(180,180,180)"/>
<circle cx="108.8" cy="137.3" r="1.56" fill="rgb(173,173,173)"/>
<circle cx="107.2" cy="138.4" r="1.05" fill="rgb(180,180,180)"/>
<circle cx="102.9" cy="107.6" r="1.00" fill="rgb(186,186,186)"/>
<circle cx="96.2" cy="138.5" r="1.33" fill="rgb(191,191,191)"/>
<circle cx="103.7" cy="115.4" r="1.35" fill="rgb(188,188,188)"/>
<circle cx="105.9" cy="125.3" r="1.23" fill="rgb(169,169,169)"/>
<circle cx="107.7" cy="123.3" r="1.32" fill="rgb(174,174,174)"/>
<circle cx="85.2" cy="114.4" r="0.95" fill="rgb(178,178,178)"/>
<circle cx="108.1" cy="124.7" r="0.84" fill="rgb(177,177,177)"/>
<circle cx="112.7" cy="117.1" r="0.96" fill="rgb(152,152,152)"/>
<circle cx="109.7" cy="137.7" r="0.83" fill="rgb(186,186,186)"/>
<circle cx="114.8" cy="122.1" r="1.32" fill="rgb(185,185,185)"/>
<circle cx="108.0" cy="119.1" r="1.19" fill="rgb(155,155,155)"/>
<circle cx="87.8" cy="125.7" r="0.98" fill="rgb(164,164,164)"/>
<circle cx="109.5" cy="128.6" r="0.89" fill="rgb(195,195,195)"/>
<circle cx="98.4" cy="140.2" r="1.11" fill="rgb(174,174,174)"/>
<circle cx="112.7" cy="133.1" r="0.91" fill="rgb(154,154,154)"/>
<circle cx="83.9" cy="116.4" r="0.99" fill="rgb(183,183,183)"/>
<circle cx="90.8" cy="124.3" r="0.87" fill="rgb(163,163,163)"/>
<circle cx="105.3" cy="138.3" r="1.22" fill="rgb(173,173,173)"/>
<circle cx="88.9" cy="136.9" r="0.92" fill="rgb(159,159,159)"/>
<circle cx="110.1" cy="118.7" r="1.03" fill="rgb(156,156,156)"/>
<circle cx="93.9" cy="125.8" r="1.24" fill="rgb(170,170,170)"/>
<circle cx="91.6" cy="135.3" r="0.78" fill="rgb(151,151,151)"/>
<circle cx="103.6" cy="140.7" r="1.14" fill="rgb(186,186,186)"/>
<circle cx="90.5" cy="120.8" r="1.08" fill="rgb(167,167,167)"/>
<circle cx="113.8" cy="119.4" r="1.57" fill="rgb(188,188,188)"/>
<circle cx="98.8" cy="128.1" r="1.60" fill="rgb(162,162,162)"/>
<circle cx="96.7" cy="126.7" r="1.20" fill="rgb(152,152,152)"/>
<circle cx="107.3" cy="115.8" r="1.48" fill="rgb(154,154,154)"/>
<circle cx="87.9" cy="111.3" r="1.56" fill="rgb(195,195,195)"/>
<circle cx="98.3" cy="138.1" r="0.78" fill="rgb(191,191,191)"/>
<circle cx="110.2" cy="118.5" r="1.10" fill="rgb(161,161,161)"/>
<circle cx="108.4" cy="139.5" r="0.85" fill="rgb(164,164,164)"/>
<circle cx="115.2" cy="118.3" r="1.51" fill="rgb(153,153,153)"/>
<circle cx="112.5" cy="115.3" r="0.93" fill="rgb(153,153,153)"/>
<circle cx="83.5" cy="123.3" r="0.75" fill="rgb(180,180,180)"/>
<circle cx="108.5" cy="136.9" r="1.31" fill="rgb(162,162,162)"/>
<circle cx="94.7" cy="137.8" r="0.79" fill="rgb(191,191,191)"/>
<circle cx="94.8" cy="132.8" r="1.04" fill="rgb(157,157,157)"/>
<circle cx="90.2" cy="132.8" r="1.52" fill="rgb(159,159,159)"/>
<circle cx="108.5" cy="116.9" r="1.42" fill="rgb(162,162,162)"/>
<circle cx="108.0" cy="138.3" r="1.54" fill="rgb(154,154,154)"/>
<circle cx="110.3" cy="112.0" r="1.40" fill="rgb(158,158,158)"/>
<circle cx="115.6" cy="120.1" r="1.46" fill="rgb(174,174,174)"/>
<circle cx="90.5" cy="115.9" r="0.99" fill="rgb(171,171,171)"/>
<circle cx="99.5" cy="130.7" r="0.83" fill="rgb(173,173,173)"/>
<circle cx="99.7" cy="128.8" r="1.11" fill="rgb(195,195,195)"/>
<circle cx="108.1" cy="117.0" r="0.94" fill="rgb(159,159,159)"/>
<circle cx="92.9" cy="128.3" r="1.21" fill="rgb(167,167,167)"/>
<circle cx="94.2" cy="140.1" r="1.14" fill="rgb(166,166,166)"/>
<circle cx="91.8" cy="140.2" r="0.84" fill="rgb(157,157,157)"/>
<circle cx="84.7" cy="123.4" r="1.53" fill="rgb(192,192,192)"/>
<circle cx="83.6" cy="118.5" r="0.93" fill="rgb(157,157,157)"/>
<circle cx="102.2" cy="135.0" r="1.60" fill="rgb(166,166,166)"/>
<circle cx="103.9" cy="122.1" r="1.07" fill="rgb(168,168,168)"/>
<circle cx="107.5" cy="138.6" r="0.83" fill="rgb(168,168,168)"/>
<circle cx="91.3" cy="115.4" r="1.01" fill="rgb(182,182,182)"/>
<circle cx="99.4" cy="125.2" r="0.96" fill="rgb(183,183,183)"/>
<circle cx="96.6" cy="127.4" r="0.90" fill="rgb(176,176,176)"/>
<circle cx="92.9" cy="121.7" r="1.17" fill="rgb(161,161,161)"/>
<circle cx="99.8" cy="132.1" r="0.77" fill="rgb(188,188,188)"/>
<circle cx="110.9" cy="131.9" r="1.39" fill="rgb(181,181,181)"/>
<circle cx="101.9" cy="130.5" r="1.34" fill="rgb(192,192,192)"/>
<circle cx="104.1" cy="111.9" r="0.71" fill="rgb(162,162,162)"/>
<circle cx="94.3" cy="112.5" r="1.17" fill="rgb(153,153,153)"/>
<circle cx="93.4" cy="132.4" r="1.48" fill="rgb(190,190,190)"/>
<circle cx="96.7" cy="124.7" r="0.82" fill="rgb(180,180,180)"/>
<circle cx="94.4" cy="116.9" r="1.45" fill="rgb(186,186,186)"/>
<circle cx="94.0" cy="130.0" r="1.22" fill="rgb(173,173,173)"/>
<circle cx="105.6" cy="116.2" r="1.57" fill="rgb(178,178,178)"/>
<circle cx="108.6" cy="129.3" r="0.46" fill="rgb(91,91,91)"/>
<circle cx="102.0" cy="108.1" r="0.61" fill="rgb(57,57,57)"/>
<circle cx="97.4" cy="130.3" r="0.68" fill="rgb(107,107,107)"/>
<circle cx="85.8" cy="123.5" r="0.59" fill="rgb(52,52,52)"/>
<circle cx="99.1" cy="130.0" r="0.63" fill="rgb(71,71,71)"/>
<circle cx="106.1" cy="130.0" r="0.72" fill="rgb(53,53,53)"/>
<circle cx="116.1" cy="126.7" r="0.68" fill="rgb(83,83,83)"/>
<circle cx="112.7" cy="126.1" r="0.61" fill="rgb(116,116,116)"/>
<circle cx="99.8" cy="136.6" r="0.51" fill="rgb(62,62,62)"/>
<circle cx="98.1" cy="120.9" r="0.41" fill="rgb(113,113,113)"/>
<circle cx="85.4" cy="116.5" r="0.40" fill="rgb(65,65,65)"/>
<circle cx="93.4" cy="128.3" r="0.62" fill="rgb(79,79,79)"/>
<circle cx="107.1" cy="135.5" r="0.69" fill="rgb(71,71,71)"/>
<circle cx="101.2" cy="123.8" r="0.64" fill="rgb(103,103,103)"/>
<circle cx="87.4" cy="116.6" r="0.37" fill="rgb(56,56,56)"/>
<circle cx="100.7" cy="114.3" r="0.46" fill="rgb(92,92,92)"/>
<circle cx="95.3" cy="108.5" r="0.60" fill="rgb(91,91,91)"/>
<circle cx="105.5" cy="109.4" r="0.37" fill="rgb(116,116,116)"/>
<circle cx="107.9" cy="136.4" r="0.51" fill="rgb(104,104,104)"/>
<circle cx="97.9" cy="122.9" r="0.40" fill="rgb(73,73,73)"/>
<circle cx="109.6" cy="129.6" r="0.58" fill="rgb(52,52,52)"/>
<circle cx="100.7" cy="136.1" r="0.53" fill="rgb(108,108,108)"/>
<circle cx="88.1" cy="112.6" r="0.75" fill="rgb(55,55,55)"/>
<circle cx="113.0" cy="127.7" r="0.47" fill="rgb(129,129,129)"/>
<circle cx="97.0" cy="137.7" r="0.77" fill="rgb(129,129,129)"/>
<circle cx="104.0" cy="128.3" r="0.36" fill="rgb(80,80,80)"/>
<circle cx="108.1" cy="121.7" r="0.49" fill="rgb(71,71,71)"/>
<circle cx="109.0" cy="134.1" r="0.78" fill="rgb(115,115,115)"/>
<circle cx="103.2" cy="121.6" r="0.62" fill="rgb(68,68,68)"/>
<circle cx="86.9" cy="129.3" r="0.75" fill="rgb(102,102,102)"/>
<circle cx="90.6" cy="120.2" r="0.68" fill="rgb(119,119,119)"/>
<circle cx="96.1" cy="136.4" r="0.66" fill="rgb(78,78,78)"/>
<circle cx="94.2" cy="118.1" r="0.67" fill="rgb(108,108,108)"/>
<circle cx="106.6" cy="118.4" r="0.57" fill="rgb(89,89,89)"/>
<circle cx="109.1" cy="126.6" r="0.43" fill="rgb(119,119,119)"/>
<circle cx="88.7" cy="133.8" r="0.36" fill="rgb(95,95,95)"/>
<circle cx="108.1" cy="139.6" r="0.50" fill="rgb(91,91,91)"/>
<circle cx="89.3" cy="125.1" r="0.79" fill="rgb(87,87,87)"/>
<circle cx="101.4" cy="125.5" r="0.60" fill="rgb(127,127,127)"/>
<circle cx="107.1" cy="116.0" r="0.38" fill="rgb(99,99,99)"/>
<circle cx="104.3" cy="115.4" r="0.69" fill="rgb(116,116,116)"/>
<circle cx="101.6" cy="142.0" r="0.68" fill="rgb(69,69,69)"/>
<circle cx="86.2" cy="132.0" r="0.41" fill="rgb(75,75,75)"/>
<circle cx="86.5" cy="113.5" r="0.72" fill="rgb(116,116,116)"/>
<circle cx="112.7" cy="134.0" r="0.76" fill="rgb(110,110,110)"/>
<circle cx="97.2" cy="138.8" r="0.63" fill="rgb(66,66,66)"/>
<circle cx="94.0" cy="127.6" r="0.53" fill="rgb(120,120,120)"/>
<circle cx="88.0" cy="118.1" r="0.78" fill="rgb(123,123,123)"/>
<circle cx="108.7" cy="138.0" r="0.48" fill="rgb(129,129,129)"/>
<circle cx="90.2" cy="117.7" r="0.55" fill="rgb(108,108,108)"/>
<circle cx="96.4" cy="135.0" r="0.51" fill="rgb(117,117,117)"/>
<circle cx="88.4" cy="120.8" r="0.49" fill="rgb(113,113,113)"/>
<circle cx="91.7" cy="131.3" r="0.59" fill="rgb(68,68,68)"/>
<circle cx="88.7" cy="128.9" r="0.45" fill="rgb(92,92,92)"/>
<circle cx="91.5" cy="139.4" r="0.73" fill="rgb(91,91,91)"/>
<circle cx="102.2" cy="135.9" r="0.76" fill="rgb(51,51,51)"/>
<circle cx="107.9" cy="126.1" r="0.75" fill="rgb(88,88,88)"/>
<circle cx="112.8" cy="117.0" r="0.59" fill="rgb(105,105,105)"/>
<circle cx="86.0" cy="123.2" r="0.66" fill="rgb(99,99,99)"/>
<circle cx="95.4" cy="125.4" r="0.65" fill="rgb(107,107,107)"/>
<circle cx="112.9" cy="119.8" r="0.59" fill="rgb(62,62,62)"/>
<circle cx="88.2" cy="131.5" r="0.64" fill="rgb(123,123,123)"/>
<circle cx="103.3" cy="131.0" r="0.54" fill="rgb(101,101,101)"/>
<circle cx="85.7" cy="129.8" r="0.80" fill="rgb(93,93,93)"/>
<circle cx="93.3" cy="110.1" r="0.39" fill="rgb(96,96,96)"/>
<circle cx="91.5" cy="140.8" r="0.72" fill="rgb(115,115,115)"/>
<circle cx="105.5" cy="137.6" r="0.48" fill="rgb(93,93,93)"/>
<circle cx="106.6" cy="108.4" r="0.75" fill="rgb(103,103,103)"/>
<circle cx="90.0" cy="115.0" r="0.72" fill="rgb(76,76,76)"/>
<circle cx="91.1" cy="124.4" r="0.43" fill="rgb(130,130,130)"/>
<circle cx="93.5" cy="122.3" r="0.61" fill="rgb(130,130,130)"/>
<circle cx="96.5" cy="121.8" r="0.54" fill="rgb(50,50,50)"/>
<circle cx="93.7" cy="138.6" r="0.35" fill="rgb(88,88,88)"/>
<circle cx="94.4" cy="128.0" r="0.36" fill="rgb(53,53,53)"/>
<circle cx="103.1" cy="136.6" r="0.60" fill="rgb(84,84,84)"/>
<circle cx="110.6" cy="112.3" r="0.58" fill="rgb(68,68,68)"/>
<circle cx="88.6" cy="119.4" r="0.40" fill="rgb(70,70,70)"/>
<circle cx="86.1" cy="123.1" r="0.36" fill="rgb(59,59,59)"/>
<circle cx="105.1" cy="136.0" r="0.72" fill="rgb(128,128,128)"/>
<circle cx="84.3" cy="131.4" r="0.64" fill="rgb(124,124,124)"/>
<circle cx="92.2" cy="138.3" r="0.51" fill="rgb(71,71,71)"/>
<circle cx="112.9" cy="127.5" r="0.74" fill="rgb(124,124,124)"/>
<circle cx="106.2" cy="127.6" r="0.63" fill="rgb(52,52,52)"/>
<circle cx="114.9" cy="130.3" r="0.61" fill="rgb(55,55,55)"/>
<circle cx="85.7" cy="129.8" r="0.46" fill="rgb(55,55,55)"/>
<circle cx="106.3" cy="136.2" r="0.43" fill="rgb(50,50,50)"/>
<circle cx="112.0" cy="114.9" r="0.49" fill="rgb(127,127,127)"/>
<circle cx="98.7" cy="141.5" r="0.79" fill="rgb(58,58,58)"/>
<circle cx="99.4" cy="135.8" r="0.67" fill="rgb(78,78,78)"/>
<circle cx="89.2" cy="130.5" r="0.67" fill="rgb(52,52,52)"/>
<circle cx="101.3" cy="116.0" r="0.43" fill="rgb(95,95,95)"/>
<circle cx="97.8" cy="125.7" r="0.75" fill="rgb(100,100,100)"/>
<circle cx="93.2" cy="122.3" r="0.59" fill="rgb(99,99,99)"/>
<circle cx="91.4" cy="137.1" r="0.78" fill="rgb(104,104,104)"/>
<circle cx="103.8" cy="115.1" r="0.46" fill="rgb(74,74,74)"/>
<circle cx="88.6" cy="126.8" r="0.55" fill="rgb(85,85,85)"/>
<circle cx="93.5" cy="115.6" r="0.42" fill="rgb(66,66,66)"/>
<circle cx="106.7" cy="129.7" r="0.73" fill="rgb(66,66,66)"/>
<circle cx="87.3" cy="120.4" r="0.71" fill="rgb(80,80,80)"/>
<circle cx="104.7" cy="133.6" r="0.68" fill="rgb(98,98,98)"/>
<circle cx="89.5" cy="114.6" r="0.48" fill="rgb(110,110,110)"/>
<circle cx="90.3" cy="124.3" r="0.55" fill="rgb(66,66,66)"/>
<circle cx="115.7" cy="118.2" r="0.62" fill="rgb(106,106,106)"/>
<circle cx="89.6" cy="118.9" r="0.46" fill="rgb(127,127,127)"/>
<circle cx="92.5" cy="124.2" r="0.69" fill="rgb(115,115,115)"/>
<circle cx="112.8" cy="133.6" r="0.68" fill="rgb(99,99,99)"/>
<circle cx="113.9" cy="127.3" r="0.42" fill="rgb(51,51,51)"/>
<circle cx="94.8" cy="128.0" r="0.43" fill="rgb(79,79,79)"/>
<circle cx="92.6" cy="137.8" r="0.40" fill="rgb(121,121,121)"/>
<circle cx="112.7" cy="116.3" r="0.69" fill="rgb(74,74,74)"/>
<circle cx="108.1" cy="128.6" r="0.45" fill="rgb(66,66,66)"/>
<circle cx="103.5" cy="114.2" r="0.51" fill="rgb(109,109,109)"/>
<circle cx="101.5" cy="107.9" r="0.74" fill="rgb(66,66,66)"/>
<circle cx="105.9" cy="121.7" r="0.51" fill="rgb(94,94,94)"/>
<circle cx="101.2" cy="122.9" r="0.67" fill="rgb(109,109,109)"/>
<circle cx="99.1" cy="141.2" r="0.51" fill="rgb(130,130,130)"/>
<circle cx="106.8" cy="130.2" r="0.47" fill="rgb(127,127,127)"/>
<circle cx="97.4" cy="109.5" r="0.37" fill="rgb(55,55,55)"/>
<circle cx="89.7" cy="117.2" r="0.69" fill="rgb(69,69,69)"/>
<circle cx="96.3" cy="127.0" r="0.49" fill="rgb(72,72,72)"/>
<circle cx="91.0" cy="121.2" r="0.57" fill="rgb(116,116,116)"/>
<circle cx="98.5" cy="136.5" r="0.66" fill="rgb(94,94,94)"/>
<circle cx="104.4" cy="122.2" r="0.69" fill="rgb(86,86,86)"/>
<circle cx="112.6" cy="114.8" r="0.61" fill="rgb(56,56,56)"/>
<circle cx="113.6" cy="122.2" r="0.37" fill="rgb(90,90,90)"/>
<circle cx="103.2" cy="141.3" r="0.69" fill="rgb(61,61,61)"/>
<circle cx="85.4" cy="132.3" r="0.80" fill="rgb(128,128,128)"/>
<circle cx="103.4" cy="116.2" r="0.39" fill="rgb(104,104,104)"/>
<circle cx="89.1" cy="128.3" r="0.58" fill="rgb(130,130,130)"/>
<circle cx="89.9" cy="115.5" r="0.65" fill="rgb(76,76,76)"/>
<circle cx="87.3" cy="130.2" r="0.77" fill="rgb(66,66,66)"/>
<circle cx="91.1" cy="125.1" r="0.78" fill="rgb(121,121,121)"/>
<circle cx="98.0" cy="137.9" r="0.79" fill="rgb(80,80,80)"/>
<circle cx="90.2" cy="122.1" r="0.38" fill="rgb(95,95,95)"/>
<circle cx="95.8" cy="129.1" r="0.64" fill="rgb(67,67,67)"/>
<circle cx="108.8" cy="136.0" r="0.65" fill="rgb(80,80,80)"/>
<circle cx="98.5" cy="123.3" r="0.66" fill="rgb(67,67,67)"/>
<circle cx="108.7" cy="120.4" r="0.48" fill="rgb(68,68,68)"/>
<circle cx="91.4" cy="120.0" r="0.63" fill="rgb(65,65,65)"/>
<circle cx="83.9" cy="119.9" r="0.43" fill="rgb(69,69,69)"/>
<circle cx="89.0" cy="117.5" r="0.69" fill="rgb(76,76,76)"/>
<circle cx="106.2" cy="131.0" r="0.51" fill="rgb(76,76,76)"/>
<circle cx="115.3" cy="129.2" r="0.49" fill="rgb(64,64,64)"/>
<circle cx="95.3" cy="113.1" r="0.40" fill="rgb(91,91,91)"/>
<circle cx="86.1" cy="129.2" r="0.48" fill="rgb(121,121,121)"/>
<circle cx="100.6" cy="125.4" r="0.80" fill="rgb(112,112,112)"/>
<circle cx="112.1" cy="132.3" r="0.79" fill="rgb(122,122,122)"/>
<circle cx="97.6" cy="139.0" r="0.78" fill="rgb(112,112,112)"/>
<circle cx="103.8" cy="136.9" r="0.35" fill="rgb(61,61,61)"/>
<circle cx="90.1" cy="113.4" r="0.77" fill="rgb(82,82,82)"/>
<circle cx="96.0" cy="120.5" r="0.69" fill="rgb(53,53,53)"/>
<circle cx="101.4" cy="108.3" r="0.48" fill="rgb(73,73,73)"/>
<circle cx="111.6" cy="121.5" r="0.75" fill="rgb(71,71,71)"/>
<circle cx="111.1" cy="133.7" r="0.49" fill="rgb(128,128,128)"/>
<circle cx="95.3" cy="131.5" r="0.72" fill="rgb(90,90,90)"/>
<circle cx="99.7" cy="131.2" r="0.76" fill="rgb(82,82,82)"/>
<circle cx="99.1" cy="128.2" r="0.61" fill="rgb(130,130,130)"/>
<circle cx="114.7" cy="116.0" r="0.53" fill="rgb(56,56,56)"/>
<circle cx="110.8" cy="120.3" r="0.57" fill="rgb(70,70,70)"/>
<circle cx="112.9" cy="124.2" r="0.63" fill="rgb(68,68,68)"/>
<circle cx="96.1" cy="117.9" r="0.55" fill="rgb(101,101,101)"/>
<circle cx="101.9" cy="126.5" r="0.55" fill="rgb(74,74,74)"/>
<circle cx="101.1" cy="135.4" r="0.36" fill="rgb(128,128,128)"/>
<circle cx="108.7" cy="112.0" r="0.54" fill="rgb(86,86,86)"/>
<circle cx="102.7" cy="126.5" r="0.67" fill="rgb(93,93,93)"/>
<circle cx="100.5" cy="125.2" r="0.78" fill="rgb(72,72,72)"/>
<circle cx="104.9" cy="120.5" r="0.48" fill="rgb(106,106,106)"/>
<circle cx="103.8" cy="110.7" r="0.61" fill="rgb(110,110,110)"/>
<circle cx="107.7" cy="129.8" r="0.56" fill="rgb(118,118,118)"/>
<circle cx="113.0" cy="115.5" r="0.79" fill="rgb(127,127,127)"/>
<circle cx="143" cy="124.6" r="20.6" fill="#dadada" stroke="#858585" stroke-width="1.5"/>
<circle cx="143" cy="124.6" r="18.9" fill="none" stroke="#a8a8a8" stroke-width="0.8"/>
<circle cx="131.2" cy="113.5" r="1.35" fill="rgb(153,153,153)"/>
<circle cx="135.8" cy="137.3" r="1.21" fill="rgb(186,186,186)"/>
<circle cx="154.9" cy="121.0" r="0.82" fill="rgb(191,191,191)"/>
<circle cx="151.7" cy="114.8" r="0.73" fill="rgb(190,190,190)"/>
<circle cx="148.6" cy="138.3" r="1.32" fill="rgb(178,178,178)"/>
<circle cx="151.3" cy="135.5" r="1.22" fill="rgb(185,185,185)"/>
<circle cx="131.7" cy="131.2" r="1.10" fill="rgb(186,186,186)"/>
<circle cx="142.4" cy="133.2" r="1.19" fill="rgb(162,162,162)"/>
<circle cx="155.7" cy="135.4" r="1.28" fill="rgb(166,166,166)"/>
<circle cx="148.6" cy="138.2" r="1.14" fill="rgb(195,195,195)"/>
<circle cx="134.9" cy="121.7" r="1.33" fill="rgb(186,186,186)"/>
<circle cx="141.4" cy="107.5" r="0.77" fill="rgb(186,186,186)"/>
<circle cx="138.9" cy="127.3" r="0.48" fill="rgb(134,134,134)"/>
<circle cx="128.5" cy="119.8" r="0.60" fill="rgb(84,84,84)"/>
<circle cx="130.7" cy="112.0" r="0.51" fill="rgb(128,128,128)"/>
<circle cx="148.4" cy="114.7" r="0.37" fill="rgb(94,94,94)"/>
<circle cx="128.4" cy="118.5" r="0.35" fill="rgb(149,149,149)"/>
<circle cx="151.2" cy="127.7" r="0.45" fill="rgb(71,71,71)"/>
<circle cx="137.8" cy="107.8" r="0.48" fill="rgb(85,85,85)"/>
<circle cx="139.9" cy="113.3" r="0.66" fill="rgb(149,149,149)"/>
<circle cx="151.1" cy="124.0" r="0.35" fill="rgb(115,115,115)"/>
<circle cx="150.7" cy="138.1" r="0.44" fill="rgb(71,71,71)"/>
<circle cx="145.9" cy="119.0" r="0.45" fill="rgb(137,137,137)"/>
<circle cx="157.5" cy="119.7" r="0.32" fill="rgb(147,147,147)"/>
<circle cx="136.5" cy="133.1" r="0.43" fill="rgb(147,147,147)"/>
<circle cx="156.1" cy="135.9" r="0.57" fill="rgb(102,102,102)"/>
<circle cx="133.9" cy="136.5" r="0.31" fill="rgb(144,144,144)"/>
<circle cx="128.1" cy="130.5" r="0.50" fill="rgb(79,79,79)"/>
<circle cx="145.4" cy="117.2" r="0.52" fill="rgb(107,107,107)"/>
<circle cx="153.3" cy="114.1" r="0.63" fill="rgb(145,145,145)"/>
<circle cx="152.4" cy="115.3" r="0.58" fill="rgb(104,104,104)"/>
<circle cx="145.0" cy="123.9" r="0.44" fill="rgb(89,89,89)"/>
<circle cx="130.5" cy="125.6" r="0.31" fill="rgb(74,74,74)"/>
<circle cx="155.6" cy="131.0" r="0.56" fill="rgb(146,146,146)"/>
<circle cx="133.3" cy="132.4" r="0.36" fill="rgb(127,127,127)"/>
<circle cx="129.8" cy="135.0" r="0.54" fill="rgb(79,79,79)"/>
<circle cx="134.6" cy="134.6" r="0.42" fill="rgb(86,86,86)"/>
<circle cx="139.8" cy="122.6" r="0.37" fill="rgb(116,116,116)"/>
<circle cx="141.5" cy="114.3" r="0.49" fill="rgb(115,115,115)"/>
<circle cx="138.9" cy="134.2" r="0.49" fill="rgb(99,99,99)"/>
<circle cx="155.1" cy="126.2" r="0.69" fill="rgb(75,75,75)"/>
<circle cx="132.6" cy="113.4" r="0.36" fill="rgb(119,119,119)"/>
<circle cx="141.1" cy="137.2" r="0.40" fill="rgb(142,142,142)"/>
<circle cx="130.7" cy="118.5" r="0.36" fill="rgb(74,74,74)"/>
<circle cx="157.7" cy="115.9" r="0.34" fill="rgb(95,95,95)"/>
<circle cx="145.2" cy="110.4" r="0.55" fill="rgb(116,116,116)"/>
<circle cx="147.2" cy="109.1" r="0.40" fill="rgb(88,88,88)"/>
<circle cx="138.8" cy="115.6" r="0.61" fill="rgb(116,116,116)"/>
<circle cx="128.7" cy="123.8" r="0.44" fill="rgb(140,140,140)"/>
<circle cx="140.8" cy="114.4" r="0.58" fill="rgb(111,111,111)"/>
<circle cx="154.9" cy="114.0" r="0.50" fill="rgb(101,101,101)"/>
<circle cx="149.5" cy="107.9" r="0.36" fill="rgb(96,96,96)"/>
<circle cx="159.8" cy="125.4" r="0.48" fill="rgb(127,127,127)"/>
<circle cx="130.4" cy="134.2" r="0.67" fill="rgb(145,145,145)"/>
<circle cx="152.0" cy="128.6" r="0.42" fill="rgb(143,143,143)"/>
<circle cx="126.5" cy="119.1" r="0.44" fill="rgb(94,94,94)"/>
<circle cx="138.6" cy="122.1" r="0.37" fill="rgb(144,144,144)"/>
<circle cx="135.5" cy="134.4" r="0.69" fill="rgb(124,124,124)"/>
<circle cx="139.9" cy="107.6" r="0.64" fill="rgb(110,110,110)"/>
<circle cx="150.6" cy="119.0" r="0.40" fill="rgb(72,72,72)"/>
<circle cx="143.8" cy="110.4" r="0.39" fill="rgb(72,72,72)"/>
<circle cx="145.3" cy="135.8" r="0.38" fill="rgb(147,147,147)"/>
<circle cx="140.4" cy="137.1" r="0.34" fill="rgb(100,100,100)"/>
<circle cx="141.2" cy="107.0" r="0.54" fill="rgb(80,80,80)"/>
<circle cx="157.6" cy="131.8" r="0.53" fill="rgb(87,87,87)"/>
<circle cx="152.4" cy="124.9" r="0.56" fill="rgb(71,71,71)"/>
<circle cx="132.0" cy="111.3" r="0.38" fill="rgb(111,111,111)"/>
<circle cx="145.0" cy="122.4" r="0.49" fill="rgb(148,148,148)"/>
<circle cx="138.5" cy="115.2" r="0.32" fill="rgb(123,123,123)"/>
<circle cx="144.5" cy="119.5" r="0.55" fill="rgb(133,133,133)"/>
<circle cx="154.3" cy="123.7" r="0.68" fill="rgb(71,71,71)"/>
<circle cx="153.0" cy="126.2" r="0.56" fill="rgb(110,110,110)"/>
</g>
<rect x="73.65" y="57.25" width="93.3" height="89.9" fill="none" stroke="#2a2a2a" stroke-width="1.7"/>
</g>
<g>
<rect x="170.4" y="56.8" width="93.6" height="91.2" fill="url(#pg2)" stroke="none" stroke-width="1"/>
<g filter="url(#b0_4)">
<circle cx="195.5" cy="80.5" r="20.6" fill="#d8d8d8" stroke="#858585" stroke-width="1.5"/>
<circle cx="195.5" cy="80.5" r="18.9" fill="none" stroke="#a8a8a8" stroke-width="0.8"/>
<circle cx="208.7" cy="85.4" r="0.84" fill="rgb(171,171,171)"/>
<circle cx="203.7" cy="81.5" r="1.39" fill="rgb(183,183,183)"/>
<circle cx="209.2" cy="89.2" r="1.01" fill="rgb(177,177,177)"/>
<circle cx="188.4" cy="65.3" r="1.29" fill="rgb(159,159,159)"/>
<circle cx="187.2" cy="74.3" r="0.93" fill="rgb(189,189,189)"/>
<circle cx="191.7" cy="65.2" r="0.98" fill="rgb(191,191,191)"/>
<circle cx="198.0" cy="62.9" r="1.20" fill="rgb(179,179,179)"/>
<circle cx="187.1" cy="90.5" r="0.82" fill="rgb(167,167,167)"/>
<circle cx="207.9" cy="81.2" r="1.43" fill="rgb(191,191,191)"/>
<circle cx="202.4" cy="79.5" r="0.91" fill="rgb(190,190,190)"/>
<circle cx="195.7" cy="75.1" r="1.26" fill="rgb(151,151,151)"/>
<circle cx="205.0" cy="89.7" r="1.20" fill="rgb(163,163,163)"/>
<circle cx="202.7" cy="96.4" r="1.36" fill="rgb(173,173,173)"/>
<circle cx="209.3" cy="70.9" r="1.18" fill="rgb(160,160,160)"/>
<circle cx="186.5" cy="92.7" r="1.58" fill="rgb(178,178,178)"/>
<circle cx="181.1" cy="80.6" r="1.51" fill="rgb(172,172,172)"/>
<circle cx="189.1" cy="85.8" r="0.80" fill="rgb(151,151,151)"/>
<circle cx="195.0" cy="75.9" r="1.52" fill="rgb(191,191,191)"/>
<circle cx="190.6" cy="71.0" r="1.21" fill="rgb(164,164,164)"/>
<circle cx="180.9" cy="89.8" r="1.26" fill="rgb(192,192,192)"/>
<circle cx="197.0" cy="89.4" r="1.34" fill="rgb(166,166,166)"/>
<circle cx="196.0" cy="91.2" r="1.38" fill="rgb(170,170,170)"/>
<circle cx="189.4" cy="72.8" r="0.89" fill="rgb(181,181,181)"/>
<circle cx="189.0" cy="77.5" r="1.56" fill="rgb(167,167,167)"/>
<circle cx="201.9" cy="88.0" r="1.00" fill="rgb(155,155,155)"/>
<circle cx="178.6" cy="82.0" r="0.62" fill="rgb(87,87,87)"/>
<circle cx="196.5" cy="84.5" r="1.09" fill="rgb(76,76,76)"/>
<circle cx="210.7" cy="85.0" r="0.83" fill="rgb(85,85,85)"/>
<circle cx="207.3" cy="67.0" r="0.72" fill="rgb(33,33,33)"/>
<circle cx="197.9" cy="73.9" r="1.18" fill="rgb(47,47,47)"/>
<circle cx="201.4" cy="76.8" r="1.05" fill="rgb(42,42,42)"/>
<circle cx="195.6" cy="68.2" r="0.80" fill="rgb(83,83,83)"/>
<circle cx="186.3" cy="95.1" r="1.04" fill="rgb(72,72,72)"/>
<circle cx="198.7" cy="80.1" r="0.68" fill="rgb(31,31,31)"/>
<circle cx="207.9" cy="83.5" r="0.67" fill="rgb(85,85,85)"/>
<circle cx="190.6" cy="65.9" r="0.54" fill="rgb(70,70,70)"/>
<circle cx="201.0" cy="82.9" r="1.22" fill="rgb(47,47,47)"/>
<circle cx="194.6" cy="80.4" r="0.67" fill="rgb(99,99,99)"/>
<circle cx="204.8" cy="92.9" r="0.88" fill="rgb(44,44,44)"/>
<circle cx="179.3" cy="77.4" r="1.22" fill="rgb(39,39,39)"/>
<circle cx="190.6" cy="87.3" r="1.23" fill="rgb(58,58,58)"/>
<circle cx="194.4" cy="71.2" r="0.63" fill="rgb(63,63,63)"/>
<circle cx="193.4" cy="98.1" r="0.65" fill="rgb(36,36,36)"/>
<circle cx="184.2" cy="87.8" r="0.77" fill="rgb(31,31,31)"/>
<circle cx="193.8" cy="83.8" r="0.84" fill="rgb(66,66,66)"/>
<circle cx="181.2" cy="76.0" r="1.24" fill="rgb(64,64,64)"/>
<circle cx="187.3" cy="86.5" r="0.81" fill="rgb(49,49,49)"/>
<circle cx="187.0" cy="87.8" r="0.81" fill="rgb(48,48,48)"/>
<circle cx="207.0" cy="71.9" r="0.68" fill="rgb(94,94,94)"/>
<circle cx="203.6" cy="76.4" r="0.96" fill="rgb(78,78,78)"/>
<circle cx="211.8" cy="79.6" r="1.00" fill="rgb(41,41,41)"/>
<circle cx="204.3" cy="67.2" r="1.18" fill="rgb(36,36,36)"/>
<circle cx="184.3" cy="88.0" r="1.01" fill="rgb(86,86,86)"/>
<circle cx="185.9" cy="77.4" r="1.23" fill="rgb(30,30,30)"/>
<circle cx="181.2" cy="82.9" r="0.85" fill="rgb(73,73,73)"/>
<circle cx="180.5" cy="70.7" r="0.68" fill="rgb(78,78,78)"/>
<circle cx="192.7" cy="84.1" r="1.23" fill="rgb(64,64,64)"/>
<circle cx="184.3" cy="70.9" r="0.74" fill="rgb(99,99,99)"/>
<circle cx="186.6" cy="65.6" r="1.07" fill="rgb(63,63,63)"/>
<circle cx="205.9" cy="73.8" r="1.04" fill="rgb(96,96,96)"/>
<circle cx="184.0" cy="73.3" r="1.25" fill="rgb(38,38,38)"/>
<circle cx="207.2" cy="74.7" r="0.89" fill="rgb(97,97,97)"/>
<circle cx="200.8" cy="90.0" r="1.01" fill="rgb(49,49,49)"/>
<circle cx="200.8" cy="69.5" r="0.98" fill="rgb(35,35,35)"/>
<circle cx="190.8" cy="90.2" r="1.15" fill="rgb(84,84,84)"/>
<circle cx="200.6" cy="85.4" r="0.69" fill="rgb(43,43,43)"/>
<circle cx="185.8" cy="91.5" r="0.89" fill="rgb(68,68,68)"/>
<circle cx="190.4" cy="82.1" r="0.80" fill="rgb(87,87,87)"/>
<circle cx="191.4" cy="69.1" r="0.86" fill="rgb(52,52,52)"/>
<circle cx="195.9" cy="73.5" r="1.01" fill="rgb(76,76,76)"/>
<circle cx="180.9" cy="81.5" r="0.97" fill="rgb(96,96,96)"/>
<circle cx="189.5" cy="89.9" r="0.51" fill="rgb(55,55,55)"/>
<circle cx="204.7" cy="80.5" r="0.94" fill="rgb(69,69,69)"/>
<circle cx="193.6" cy="71.3" r="0.74" fill="rgb(60,60,60)"/>
<circle cx="194.3" cy="92.4" r="0.89" fill="rgb(93,93,93)"/>
<circle cx="200.6" cy="74.2" r="0.82" fill="rgb(67,67,67)"/>
<circle cx="187.4" cy="73.1" r="0.53" fill="rgb(86,86,86)"/>
<circle cx="192.9" cy="83.1" r="1.06" fill="rgb(82,82,82)"/>
<circle cx="182.8" cy="86.4" r="0.69" fill="rgb(60,60,60)"/>
<circle cx="185.2" cy="89.5" r="1.19" fill="rgb(54,54,54)"/>
<circle cx="211.9" cy="78.2" r="0.94" fill="rgb(38,38,38)"/>
<circle cx="190.3" cy="71.6" r="0.55" fill="rgb(87,87,87)"/>
<circle cx="186.0" cy="89.5" r="0.87" fill="rgb(33,33,33)"/>
<circle cx="206.0" cy="89.0" r="1.20" fill="rgb(85,85,85)"/>
<circle cx="184.8" cy="86.8" r="1.17" fill="rgb(86,86,86)"/>
<circle cx="239.7" cy="80.5" r="20.6" fill="#e2e2e2" stroke="#858585" stroke-width="1.5"/>
<circle cx="239.7" cy="80.5" r="18.9" fill="none" stroke="#a8a8a8" stroke-width="0.8"/>
<circle cx="234.4" cy="84.5" r="1.30" fill="rgb(150,150,150)"/>
<circle cx="239.0" cy="69.1" r="1.53" fill="rgb(152,152,152)"/>
<circle cx="236.9" cy="90.5" r="1.39" fill="rgb(174,174,174)"/>
<circle cx="245.9" cy="86.2" r="1.21" fill="rgb(154,154,154)"/>
<circle cx="252.3" cy="81.7" r="1.18" fill="rgb(43,43,43)"/>
<circle cx="235.8" cy="78.8" r="1.04" fill="rgb(75,75,75)"/>
<circle cx="231.1" cy="94.9" r="0.94" fill="rgb(77,77,77)"/>
<circle cx="227.7" cy="87.3" r="1.30" fill="rgb(82,82,82)"/>
<circle cx="253.2" cy="84.9" r="0.76" fill="rgb(42,42,42)"/>
<circle cx="238.3" cy="80.3" r="1.29" fill="rgb(47,47,47)"/>
<circle cx="234.4" cy="79.8" r="0.81" fill="rgb(72,72,72)"/>
<circle cx="248.2" cy="70.1" r="0.91" fill="rgb(56,56,56)"/>
<circle cx="235.5" cy="71.4" r="0.70" fill="rgb(54,54,54)"/>
<circle cx="245.0" cy="64.7" r="0.71" fill="rgb(42,42,42)"/>
<circle cx="245.2" cy="86.5" r="1.02" fill="rgb(89,89,89)"/>
<circle cx="227.4" cy="83.3" r="0.97" fill="rgb(53,53,53)"/>
<circle cx="249.2" cy="76.0" r="0.87" fill="rgb(75,75,75)"/>
<circle cx="235.9" cy="79.1" r="0.75" fill="rgb(64,64,64)"/>
<circle cx="255.7" cy="87.7" r="1.16" fill="rgb(32,32,32)"/>
<circle cx="195.5" cy="124.7" r="20.6" fill="#d8d8d8" stroke="#858585" stroke-width="1.5"/>
<circle cx="195.5" cy="124.7" r="18.9" fill="none" stroke="#a8a8a8" stroke-width="0.8"/>
<circle cx="193.1" cy="140.6" r="0.88" fill="rgb(168,168,168)"/>
<circle cx="200.0" cy="141.9" r="1.11" fill="rgb(189,189,189)"/>
<circle cx="206.5" cy="119.9" r="0.75" fill="rgb(163,163,163)"/>
<circle cx="182.3" cy="130.5" r="0.82" fill="rgb(153,153,153)"/>
<circle cx="207.3" cy="113.6" r="0.86" fill="rgb(181,181,181)"/>
<circle cx="207.4" cy="118.4" r="1.15" fill="rgb(160,160,160)"/>
<circle cx="188.7" cy="111.6" r="1.42" fill="rgb(168,168,168)"/>
<circle cx="188.5" cy="123.2" r="0.89" fill="rgb(195,195,195)"/>
<circle cx="200.0" cy="128.0" r="1.56" fill="rgb(155,155,155)"/>
<circle cx="182.9" cy="132.2" r="1.34" fill="rgb(166,166,166)"/>
<circle cx="184.5" cy="128.9" r="1.53" fill="rgb(153,153,153)"/>
<circle cx="200.3" cy="130.1" r="0.96" fill="rgb(178,178,178)"/>
<circle cx="197.0" cy="138.4" r="1.34" fill="rgb(170,170,170)"/>
<circle cx="193.6" cy="114.9" r="0.99" fill="rgb(166,166,166)"/>
<circle cx="199.3" cy="118.8" r="1.58" fill="rgb(192,192,192)"/>
<circle cx="193.0" cy="126.8" r="0.84" fill="rgb(174,174,174)"/>
<circle cx="191.8" cy="138.8" r="0.78" fill="rgb(194,194,194)"/>
<circle cx="180.5" cy="128.1" r="1.00" fill="rgb(177,177,177)"/>
<circle cx="192.6" cy="126.8" r="0.81" fill="rgb(172,172,172)"/>
<circle cx="211.4" cy="116.4" r="1.17" fill="rgb(183,183,183)"/>
<circle cx="192.8" cy="135.0" r="1.50" fill="rgb(181,181,181)"/>
<circle cx="202.4" cy="120.5" r="1.48" fill="rgb(167,167,167)"/>
<circle cx="184.7" cy="117.1" r="0.88" fill="rgb(155,155,155)"/>
<circle cx="180.0" cy="127.6" r="1.22" fill="rgb(164,164,164)"/>
<circle cx="191.3" cy="137.7" r="1.57" fill="rgb(156,156,156)"/>
<circle cx="185.7" cy="139.2" r="0.99" fill="rgb(36,36,36)"/>
<circle cx="200.5" cy="134.1" r="0.86" fill="rgb(72,72,72)"/>
<circle cx="195.1" cy="117.1" r="1.09" fill="rgb(68,68,68)"/>
<circle cx="201.0" cy="110.4" r="0.84" fill="rgb(100,100,100)"/>
<circle cx="201.0" cy="129.4" r="0.79" fill="rgb(34,34,34)"/>
<circle cx="208.1" cy="127.4" r="0.57" fill="rgb(46,46,46)"/>
<circle cx="181.3" cy="133.1" r="0.56" fill="rgb(50,50,50)"/>
<circle cx="186.2" cy="136.0" r="0.57" fill="rgb(30,30,30)"/>
<circle cx="204.7" cy="110.6" r="0.86" fill="rgb(49,49,49)"/>
<circle cx="195.1" cy="130.6" r="0.68" fill="rgb(49,49,49)"/>
<circle cx="182.3" cy="125.0" r="0.59" fill="rgb(89,89,89)"/>
<circle cx="195.8" cy="138.3" r="0.53" fill="rgb(62,62,62)"/>
<circle cx="190.1" cy="130.6" r="0.80" fill="rgb(56,56,56)"/>
<circle cx="212.6" cy="123.4" r="1.04" fill="rgb(98,98,98)"/>
<circle cx="178.5" cy="124.5" r="0.51" fill="rgb(36,36,36)"/>
<circle cx="179.5" cy="125.9" r="0.93" fill="rgb(59,59,59)"/>
<circle cx="201.9" cy="128.6" r="1.13" fill="rgb(33,33,33)"/>
<circle cx="182.9" cy="131.2" r="0.58" fill="rgb(45,45,45)"/>
<circle cx="207.3" cy="131.6" r="0.68" fill="rgb(95,95,95)"/>
<circle cx="194.4" cy="120.3" r="0.68" fill="rgb(73,73,73)"/>
<circle cx="199.1" cy="124.3" r="0.96" fill="rgb(52,52,52)"/>
<circle cx="199.7" cy="115.0" r="1.11" fill="rgb(89,89,89)"/>
<circle cx="189.1" cy="120.5" r="0.74" fill="rgb(82,82,82)"/>
<circle cx="196.2" cy="121.6" r="1.09" fill="rgb(48,48,48)"/>
<circle cx="194.0" cy="109.9" r="0.61" fill="rgb(74,74,74)"/>
<circle cx="196.5" cy="116.6" r="1.19" fill="rgb(72,72,72)"/>
<circle cx="194.3" cy="120.2" r="0.50" fill="rgb(91,91,91)"/>
<circle cx="208.2" cy="127.8" r="0.75" fill="rgb(38,38,38)"/>
<circle cx="195.6" cy="110.3" r="0.65" fill="rgb(36,36,36)"/>
<circle cx="204.5" cy="111.5" r="0.57" fill="rgb(74,74,74)"/>
<circle cx="181.5" cy="116.7" r="0.87" fill="rgb(93,93,93)"/>
<circle cx="206.3" cy="137.0" r="1.20" fill="rgb(36,36,36)"/>
<circle cx="195.0" cy="108.3" r="1.10" fill="rgb(51,51,51)"/>
<circle cx="180.5" cy="131.2" r="1.09" fill="rgb(95,95,95)"/>
<circle cx="190.2" cy="141.5" r="0.90" fill="rgb(44,44,44)"/>
<circle cx="210.0" cy="131.3" r="1.10" fill="rgb(59,59,59)"/>
<circle cx="196.4" cy="138.5" r="0.92" fill="rgb(93,93,93)"/>
<circle cx="180.0" cy="116.8" r="1.17" fill="rgb(36,36,36)"/>
<circle cx="183.1" cy="134.7" r="1.10" fill="rgb(73,73,73)"/>
<circle cx="200.8" cy="114.5" r="0.57" fill="rgb(73,73,73)"/>
<circle cx="186.6" cy="110.1" r="0.82" fill="rgb(69,69,69)"/>
<circle cx="208.1" cy="125.1" r="0.51" fill="rgb(44,44,44)"/>
<circle cx="204.5" cy="116.1" r="0.81" fill="rgb(68,68,68)"/>
<circle cx="185.4" cy="127.5" r="0.66" fill="rgb(75,75,75)"/>
<circle cx="185.8" cy="132.3" r="0.52" fill="rgb(72,72,72)"/>
<circle cx="203.5" cy="129.6" r="1.03" fill="rgb(86,86,86)"/>
<circle cx="184.5" cy="132.0" r="0.68" fill="rgb(57,57,57)"/>
<circle cx="194.0" cy="121.4" r="1.12" fill="rgb(53,53,53)"/>
<circle cx="187.5" cy="131.3" r="0.61" fill="rgb(51,51,51)"/>
<circle cx="198.2" cy="141.5" r="0.96" fill="rgb(80,80,80)"/>
<circle cx="191.8" cy="134.2" r="1.16" fill="rgb(54,54,54)"/>
<circle cx="206.5" cy="110.8" r="0.79" fill="rgb(31,31,31)"/>
<circle cx="203.0" cy="124.7" r="1.21" fill="rgb(88,88,88)"/>
<circle cx="182.1" cy="118.9" r="1.05" fill="rgb(42,42,42)"/>
<circle cx="210.9" cy="123.2" r="1.06" fill="rgb(78,78,78)"/>
<circle cx="205.8" cy="136.4" r="0.69" fill="rgb(83,83,83)"/>
<circle cx="208.1" cy="131.2" r="0.83" fill="rgb(67,67,67)"/>
<circle cx="186.0" cy="135.9" r="0.97" fill="rgb(78,78,78)"/>
<circle cx="210.5" cy="118.5" r="0.54" fill="rgb(93,93,93)"/>
<circle cx="180.5" cy="125.3" r="0.51" fill="rgb(45,45,45)"/>
<circle cx="239.7" cy="124.7" r="20.6" fill="#e2e2e2" stroke="#858585" stroke-width="1.5"/>
<circle cx="239.7" cy="124.7" r="18.9" fill="none" stroke="#a8a8a8" stroke-width="0.8"/>
<circle cx="228.4" cy="120.4" r="1.50" fill="rgb(182,182,182)"/>
<circle cx="237.6" cy="109.3" r="1.55" fill="rgb(152,152,152)"/>
<circle cx="238.2" cy="124.9" r="0.83" fill="rgb(167,167,167)"/>
<circle cx="228.0" cy="117.6" r="1.60" fill="rgb(152,152,152)"/>
<circle cx="246.1" cy="137.0" r="1.29" fill="rgb(70,70,70)"/>
<circle cx="240.5" cy="115.0" r="0.94" fill="rgb(56,56,56)"/>
<circle cx="228.7" cy="121.3" r="0.57" fill="rgb(90,90,90)"/>
<circle cx="234.8" cy="114.8" r="1.27" fill="rgb(75,75,75)"/>
<circle cx="228.8" cy="137.9" r="0.76" fill="rgb(83,83,83)"/>
<circle cx="225.1" cy="117.3" r="1.13" fill="rgb(52,52,52)"/>
<circle cx="246.0" cy="119.7" r="1.15" fill="rgb(33,33,33)"/>
<circle cx="247.8" cy="137.9" r="0.64" fill="rgb(49,49,49)"/>
<circle cx="251.2" cy="117.1" r="1.28" fill="rgb(79,79,79)"/>
<circle cx="257.0" cy="121.1" r="0.65" fill="rgb(49,49,49)"/>
<circle cx="249.3" cy="116.9" r="1.00" fill="rgb(89,89,89)"/>
<circle cx="234.2" cy="126.9" r="0.71" fill="rgb(55,55,55)"/>
<circle cx="232.9" cy="139.2" r="0.88" fill="rgb(37,37,37)"/>
<circle cx="244.6" cy="141.1" r="0.86" fill="rgb(83,83,83)"/>
<circle cx="233.7" cy="128.6" r="1.21" fill="rgb(32,32,32)"/>
<circle cx="248.7" cy="137.5" r="0.88" fill="rgb(65,65,65)"/>
<circle cx="246.4" cy="115.3" r="0.56" fill="rgb(55,55,55)"/>
<circle cx="228.5" cy="137.8" r="0.92" fill="rgb(48,48,48)"/>
</g>
<rect x="171.25" y="57.65" width="91.9" height="89.5" fill="none" stroke="#2a2a2a" stroke-width="1.7"/>
</g>
<line x1="67.8" y1="157" x2="262.5" y2="157" stroke="#666" stroke-width="1.3"/>
<line x1="72.5" y1="157" x2="72.5" y2="288.5" stroke="#444" stroke-width="1.1"/>
<line x1="262.5" y1="157" x2="262.5" y2="289" stroke="#555" stroke-width="1.1"/>
<line x1="72.5" y1="286.8" x2="262.5" y2="286.8" stroke="#444" stroke-width="1.2"/>
<line x1="167.5" y1="286.6" x2="167.5" y2="289" stroke="#444" stroke-width="1.1"/>
<line x1="67.8" y1="286.6" x2="72.5" y2="286.6" stroke="#444" stroke-width="1.1"/>
<text x="62.6" y="291.5" font-size="14" text-anchor="end" fill="#161616">0</text>
<line x1="67.8" y1="265" x2="72.5" y2="265" stroke="#444" stroke-width="1.1"/>
<text x="62.6" y="269.9" font-size="14" text-anchor="end" fill="#161616">50</text>
<line x1="67.8" y1="243.4" x2="72.5" y2="243.4" stroke="#444" stroke-width="1.1"/>
<text x="62.6" y="248.3" font-size="14" text-anchor="end" fill="#161616">100</text>
<line x1="67.8" y1="221.8" x2="72.5" y2="221.8" stroke="#444" stroke-width="1.1"/>
<text x="62.6" y="226.7" font-size="14" text-anchor="end" fill="#161616">150</text>
<line x1="67.8" y1="200.2" x2="72.5" y2="200.2" stroke="#444" stroke-width="1.1"/>
<text x="62.6" y="205.1" font-size="14" text-anchor="end" fill="#161616">200</text>
<line x1="67.8" y1="178.6" x2="72.5" y2="178.6" stroke="#444" stroke-width="1.1"/>
<text x="62.6" y="183.5" font-size="14" text-anchor="end" fill="#161616">250</text>
<line x1="67.8" y1="157" x2="72.5" y2="157" stroke="#444" stroke-width="1.1"/>
<text x="62.6" y="161.9" font-size="14" text-anchor="end" fill="#161616">300</text>
<line x1="70.2" y1="275.8" x2="72.5" y2="275.8" stroke="#444" stroke-width="1.1"/>
<line x1="70.2" y1="254.2" x2="72.5" y2="254.2" stroke="#444" stroke-width="1.1"/>
<line x1="70.2" y1="232.6" x2="72.5" y2="232.6" stroke="#444" stroke-width="1.1"/>
<line x1="70.2" y1="211" x2="72.5" y2="211" stroke="#444" stroke-width="1.1"/>
<line x1="70.2" y1="189.4" x2="72.5" y2="189.4" stroke="#444" stroke-width="1.1"/>
<line x1="70.2" y1="167.8" x2="72.5" y2="167.8" stroke="#444" stroke-width="1.1"/>
<text x="31" y="221" font-size="14" text-anchor="middle" transform="rotate(-90 31 221)" fill="#161616">Number of colonies</text>
<line x1="106" y1="176.7" x2="106" y2="167" stroke="#111" stroke-width="1.4"/>
<line x1="100" y1="167" x2="112" y2="167" stroke="#111" stroke-width="1.6"/>
<rect x="90.8" y="176.7" width="30.4" height="109.9" fill="#181818" stroke="#111" stroke-width="1.2"/>
<rect x="121.2" y="240.8" width="29.5" height="45.8" fill="#141414" stroke="none" stroke-width="1"/>
<line x1="135.95" y1="240.8" x2="135.95" y2="237.1" stroke="#111" stroke-width="1.4"/>
<line x1="129.8" y1="237.1" x2="142.1" y2="237.1" stroke="#111" stroke-width="1.6"/>
<rect x="121.2" y="240.8" width="29.5" height="45.8" fill="url(#dotblk)" stroke="#111" stroke-width="1.2"/>
<line x1="200.7" y1="231.6" x2="200.7" y2="228.3" stroke="#111" stroke-width="1.4"/>
<line x1="194.1" y1="228.3" x2="207.3" y2="228.3" stroke="#111" stroke-width="1.6"/>
<rect x="185.7" y="231.6" width="30" height="55" fill="#5e5e5e" stroke="#111" stroke-width="1.2"/>
<rect x="215.7" y="270" width="29.8" height="16.6" fill="#6a6a6a" stroke="none" stroke-width="1"/>
<line x1="230.6" y1="270" x2="230.6" y2="269.3" stroke="#111" stroke-width="1.4"/>
<line x1="224.6" y1="269.3" x2="236.6" y2="269.3" stroke="#111" stroke-width="1.6"/>
<rect x="215.7" y="270" width="29.8" height="16.6" fill="url(#dotgry)" stroke="#111" stroke-width="1.2"/>
<polygon points="132.60,220.50 133.28,222.07 134.98,222.23 133.69,223.36 134.07,225.02 132.60,224.15 131.13,225.02 131.51,223.36 130.22,222.23 131.92,222.07" fill="#111"/>
<polygon points="138.00,220.50 138.68,222.07 140.38,222.23 139.09,223.36 139.47,225.02 138.00,224.15 136.53,225.02 136.91,223.36 135.62,222.23 137.32,222.07" fill="#111"/>
<polygon points="226.90,255.70 227.58,257.27 229.28,257.43 227.99,258.56 228.37,260.22 226.90,259.35 225.43,260.22 225.81,258.56 224.52,257.43 226.22,257.27" fill="#111"/>
<polygon points="232.30,255.70 232.98,257.27 234.68,257.43 233.39,258.56 233.77,260.22 232.30,259.35 230.83,260.22 231.21,258.56 229.92,257.43 231.62,257.27" fill="#111"/>
<text x="113.3" y="300" font-size="14" text-anchor="end" transform="rotate(-45 113.3 300)" fill="#161616">VC</text>
<text x="141" y="300" font-size="14" text-anchor="end" transform="rotate(-45 141 300)" fill="#161616">Uba80</text>
<text x="207.3" y="300" font-size="14" text-anchor="end" transform="rotate(-45 207.3 300)" fill="#161616">VC</text>
<text x="236.5" y="300" font-size="14" text-anchor="end" transform="rotate(-45 236.5 300)" fill="#161616">Uba52</text>
<text x="287.5" y="19" font-size="16.5" text-anchor="start" font-weight="bold" fill="#000">b</text>
<text x="369.8" y="52.5" font-size="13.8" text-anchor="start" transform="rotate(-43.5 369.8 52.5)" fill="#161616">CMV-HA1</text>
<text x="393.5" y="52.5" font-size="13.8" text-anchor="start" transform="rotate(-43.5 393.5 52.5)" fill="#161616">CMV-HA2</text>
<text x="416.5" y="52.5" font-size="13.8" text-anchor="start" transform="rotate(-43.5 416.5 52.5)" fill="#161616">Uba80-33</text>
<text x="440" y="52.5" font-size="13.8" text-anchor="start" transform="rotate(-43.5 440 52.5)" fill="#161616">Uba80-41</text>
<rect x="360.7" y="58.3" width="13.9" height="2.8" fill="#111" stroke="none" stroke-width="1"/>
<rect x="383.9" y="58.3" width="13.2" height="2.8" fill="#111" stroke="none" stroke-width="1"/>
<rect x="407.6" y="58.3" width="12.8" height="2.8" fill="#111" stroke="none" stroke-width="1"/>
<rect x="431.8" y="58.3" width="13.4" height="2.8" fill="#111" stroke="none" stroke-width="1"/>
<rect x="345.25" y="64.95" width="113" height="25.9" fill="#d5d5d5" stroke="#1e1e1e" stroke-width="1.5"/>
<ellipse cx="366.5" cy="81.6" rx="9.5" ry="2.75" fill="#9a9a9a" opacity="1" filter="url(#b1_4)"/>
<ellipse cx="389.8" cy="81.6" rx="9" ry="2.5" fill="#a2a2a2" opacity="1" filter="url(#b1_4)"/>
<rect x="404.25" y="70.8" width="19.5" height="5.6" rx="4.48" ry="2.8" fill="#464646" opacity="1" filter="url(#b1_3)"/>
<ellipse cx="437.5" cy="73.4" rx="10" ry="4.25" fill="#1a1a1a" opacity="1" filter="url(#b1_5)"/>
<ellipse cx="414" cy="81.9" rx="8" ry="1.8" fill="#b2b2b2" opacity="1" filter="url(#b1_2)"/>
<ellipse cx="437.5" cy="81.9" rx="7.5" ry="1.8" fill="#acacac" opacity="1" filter="url(#b1_2)"/>
<polygon points="461.8,73.6 470.3,69.5 470.3,77.7" fill="#111"/>
<line x1="468" y1="73.6" x2="481.6" y2="73.6" stroke="#111" stroke-width="1.5"/>
<rect x="343.35" y="98.05" width="117.9" height="24.5" fill="#a6a6a6" stroke="#1e1e1e" stroke-width="1.5"/>
<rect x="349.75" y="105.75" width="22.5" height="6.5" rx="5.2" ry="3.25" fill="#2a2a2a" opacity="1" filter="url(#b1)"/>
<rect x="375.05" y="105.75" width="23.5" height="6.5" rx="5.2" ry="3.25" fill="#2a2a2a" opacity="1" filter="url(#b1)"/>
<rect x="402" y="107.1" width="22" height="4.6" rx="3.68" ry="2.3" fill="#2a2a2a" opacity="1" filter="url(#b1)"/>
<rect x="427" y="106.1" width="24" height="6.2" rx="4.96" ry="3.1" fill="#222" opacity="1" filter="url(#b1)"/>
<rect x="403.25" y="114.8" width="19.5" height="3.6" rx="2.88" ry="1.8" fill="#2e2e2e" opacity="1" filter="url(#b0_9)"/>
<rect x="429.75" y="114.8" width="19.5" height="3.6" rx="2.88" ry="1.8" fill="#2e2e2e" opacity="1" filter="url(#b0_9)"/>
<rect x="343.35" y="126.95" width="117.9" height="20.3" fill="#b2b2b2" stroke="#1e1e1e" stroke-width="1.5"/>
<rect x="348" y="134.5" width="26" height="6" rx="4.8" ry="3" fill="#303030" opacity="1" filter="url(#b1)"/>
<rect x="373" y="134.5" width="27" height="6" rx="4.8" ry="3" fill="#343434" opacity="1" filter="url(#b1)"/>
<rect x="399.5" y="134.4" width="27" height="6.2" rx="4.96" ry="3.1" fill="#303030" opacity="1" filter="url(#b1)"/>
<rect x="424.5" y="134.45" width="26" height="6.5" rx="5.2" ry="3.25" fill="#2c2c2c" opacity="1" filter="url(#b1)"/>
<text x="336.3" y="82.7" font-size="14" text-anchor="end" fill="#161616">Uba80</text>
<text x="332.8" y="118.6" font-size="14" text-anchor="end" fill="#161616">PARP</text>
<text x="332.8" y="144.5" font-size="14" text-anchor="end" fill="#161616">Tubulin</text>
<line x1="333.6" y1="167.5" x2="529.5" y2="167.5" stroke="#444" stroke-width="1.2"/>
<line x1="337.4" y1="167.5" x2="337.4" y2="285.3" stroke="#444" stroke-width="1.1"/>
<line x1="529.5" y1="167.5" x2="529.5" y2="285.3" stroke="#444" stroke-width="1.1"/>
<line x1="337.4" y1="284.9" x2="529.5" y2="284.9" stroke="#444" stroke-width="1.4"/>
<line x1="333.6" y1="284.7" x2="337.4" y2="284.7" stroke="#444" stroke-width="1.1"/>
<text x="327.8" y="289.6" font-size="14" text-anchor="end" fill="#161616">0</text>
<line x1="333.6" y1="255.425" x2="337.4" y2="255.425" stroke="#444" stroke-width="1.1"/>
<text x="327.8" y="260.325" font-size="14" text-anchor="end" fill="#161616">20</text>
<line x1="333.6" y1="226.15" x2="337.4" y2="226.15" stroke="#444" stroke-width="1.1"/>
<text x="327.8" y="231.05" font-size="14" text-anchor="end" fill="#161616">40</text>
<line x1="333.6" y1="196.875" x2="337.4" y2="196.875" stroke="#444" stroke-width="1.1"/>
<text x="327.8" y="201.775" font-size="14" text-anchor="end" fill="#161616">60</text>
<line x1="333.6" y1="167.6" x2="337.4" y2="167.6" stroke="#444" stroke-width="1.1"/>
<text x="327.8" y="172.5" font-size="14" text-anchor="end" fill="#161616">80</text>
<line x1="335.4" y1="270.062" x2="337.4" y2="270.062" stroke="#444" stroke-width="1.1"/>
<line x1="335.4" y1="240.787" x2="337.4" y2="240.787" stroke="#444" stroke-width="1.1"/>
<line x1="335.4" y1="211.512" x2="337.4" y2="211.512" stroke="#444" stroke-width="1.1"/>
<line x1="335.4" y1="182.238" x2="337.4" y2="182.238" stroke="#444" stroke-width="1.1"/>
<line x1="369.8" y1="284.7" x2="369.8" y2="288.8" stroke="#444" stroke-width="1.1"/>
<line x1="414.7" y1="284.7" x2="414.7" y2="288.8" stroke="#444" stroke-width="1.1"/>
<line x1="459.6" y1="284.7" x2="459.6" y2="288.8" stroke="#444" stroke-width="1.1"/>
<line x1="504.5" y1="284.7" x2="504.5" y2="288.8" stroke="#444" stroke-width="1.1"/>
<line x1="347.3" y1="284.7" x2="347.3" y2="287.2" stroke="#444" stroke-width="1.1"/>
<line x1="392.2" y1="284.7" x2="392.2" y2="287.2" stroke="#444" stroke-width="1.1"/>
<line x1="437.1" y1="284.7" x2="437.1" y2="287.2" stroke="#444" stroke-width="1.1"/>
<line x1="482" y1="284.7" x2="482" y2="287.2" stroke="#444" stroke-width="1.1"/>
<text x="369.8" y="304.5" font-size="14" text-anchor="middle" fill="#161616">0</text>
<text x="414.7" y="304.5" font-size="14" text-anchor="middle" fill="#161616">12</text>
<text x="459.6" y="304.5" font-size="14" text-anchor="middle" fill="#161616">24</text>
<text x="504.5" y="304.5" font-size="14" text-anchor="middle" fill="#161616">48</text>
<text x="434" y="323.5" font-size="14" text-anchor="middle" fill="#161616">Time (h)</text>
<text x="301.8" y="226.2" font-size="14" text-anchor="middle" transform="rotate(-90 301.8 226.2)" fill="#161616">Cell death (%)</text>
<line x1="458.4" y1="224" x2="458.4" y2="216.8" stroke="#111" stroke-width="1.2"/>
<line x1="455.8" y1="216.8" x2="461" y2="216.8" stroke="#111" stroke-width="1.3"/>
<line x1="506.7" y1="182.2" x2="506.7" y2="178.5" stroke="#111" stroke-width="1.2"/>
<line x1="504" y1="178.5" x2="509.4" y2="178.5" stroke="#111" stroke-width="1.3"/>
<line x1="410.7" y1="250.9" x2="410.7" y2="247.5" stroke="#111" stroke-width="1.2"/>
<line x1="408" y1="247.5" x2="413.4" y2="247.5" stroke="#111" stroke-width="1.3"/>
<polyline points="363.5,274.8 410.7,277.9 458.4,271.4 506.7,245.8" fill="none" stroke="#111" stroke-width="1.5" stroke-linejoin="round"/>
<polyline points="363.5,274.8 410.7,275.2 458.4,271.4 506.7,246.3" fill="none" stroke="#111" stroke-width="1.5" stroke-linejoin="round"/>
<polyline points="363.5,274.8 410.7,250.9 458.4,224 506.7,182.2" fill="none" stroke="#111" stroke-width="1.5" stroke-linejoin="round"/>
<polyline points="363.5,274.8 410.7,255.4 458.4,231.6 506.7,186" fill="none" stroke="#111" stroke-width="1.5" stroke-linejoin="round"/>
<circle cx="363.5" cy="274.8" r="3.9" fill="#fff" stroke="#111" stroke-width="1.3"/>
<circle cx="410.7" cy="277.9" r="3.9" fill="#fff" stroke="#111" stroke-width="1.3"/>
<circle cx="458.4" cy="271.4" r="3.9" fill="#fff" stroke="#111" stroke-width="1.3"/>
<circle cx="506.7" cy="245.8" r="3.9" fill="#fff" stroke="#111" stroke-width="1.3"/>
<circle cx="363.5" cy="274.8" r="3.9" fill="#111" stroke="#111" stroke-width="1.3"/>
<circle cx="410.7" cy="275.2" r="3.9" fill="#111" stroke="#111" stroke-width="1.3"/>
<circle cx="458.4" cy="271.4" r="3.9" fill="#111" stroke="#111" stroke-width="1.3"/>
<circle cx="506.7" cy="246.3" r="3.9" fill="#111" stroke="#111" stroke-width="1.3"/>
<rect x="359.6" y="270.9" width="7.8" height="7.8" fill="#fff" stroke="#111" stroke-width="1.3"/>
<rect x="406.8" y="247" width="7.8" height="7.8" fill="#fff" stroke="#111" stroke-width="1.3"/>
<rect x="454.5" y="220.1" width="7.8" height="7.8" fill="#fff" stroke="#111" stroke-width="1.3"/>
<rect x="502.8" y="178.3" width="7.8" height="7.8" fill="#fff" stroke="#111" stroke-width="1.3"/>
<rect x="359.6" y="270.9" width="7.8" height="7.8" fill="#111" stroke="#111" stroke-width="1.3"/>
<rect x="406.8" y="251.5" width="7.8" height="7.8" fill="#111" stroke="#111" stroke-width="1.3"/>
<rect x="454.5" y="227.7" width="7.8" height="7.8" fill="#111" stroke="#111" stroke-width="1.3"/>
<rect x="502.8" y="182.1" width="7.8" height="7.8" fill="#111" stroke="#111" stroke-width="1.3"/>
<line x1="344.8" y1="174.7" x2="391.3" y2="174.7" stroke="#111" stroke-width="1.5"/>
<circle cx="368.3" cy="174.7" r="3.8" fill="#fff" stroke="#111" stroke-width="1.3"/>
<text x="393.8" y="178.9" font-size="11.1" text-anchor="start" fill="#161616">CMV-HA1</text>
<line x1="344.8" y1="188" x2="391.3" y2="188" stroke="#111" stroke-width="1.5"/>
<circle cx="368.3" cy="188" r="3.8" fill="#111" stroke="#111" stroke-width="1.3"/>
<text x="393.8" y="192.5" font-size="11.1" text-anchor="start" fill="#161616">CMV-HA2</text>
<line x1="344.8" y1="199.4" x2="391.3" y2="199.4" stroke="#111" stroke-width="1.5"/>
<rect x="364.5" y="195.6" width="7.6" height="7.6" fill="#fff" stroke="#111" stroke-width="1.3"/>
<text x="393.8" y="206" font-size="11.1" text-anchor="start" fill="#161616">Uba80-33</text>
<line x1="344.8" y1="214" x2="391.3" y2="214" stroke="#111" stroke-width="1.5"/>
<rect x="364.5" y="210.2" width="7.6" height="7.6" fill="#111" stroke="#111" stroke-width="1.3"/>
<text x="393.8" y="219.1" font-size="11.1" text-anchor="start" fill="#161616">Uba80-41</text>
<text x="0.5" y="362.2" font-size="16.5" text-anchor="start" font-weight="bold" fill="#000">c</text>
<text x="95.3" y="417.4" font-size="13" text-anchor="middle" fill="#161616">C</text>
<text x="120.9" y="417.4" font-size="13" text-anchor="middle" fill="#161616">0</text>
<text x="144.5" y="417.4" font-size="13" text-anchor="middle" fill="#161616">12</text>
<text x="168.8" y="417.4" font-size="13" text-anchor="middle" fill="#161616">24</text>
<text x="192" y="417.4" font-size="13" text-anchor="middle" fill="#161616">48</text>
<text x="215.2" y="417.4" font-size="13" text-anchor="middle" fill="#161616">72</text>
<text x="232.6" y="417.4" font-size="13" text-anchor="start" fill="#161616">h</text>
<rect x="88.1" y="423.8" width="14.7" height="3" fill="#111" stroke="none" stroke-width="1"/>
<rect x="113.6" y="423.8" width="14.6" height="3" fill="#111" stroke="none" stroke-width="1"/>
<rect x="136.7" y="423.8" width="15.2" height="3" fill="#111" stroke="none" stroke-width="1"/>
<rect x="161.3" y="423.8" width="14.9" height="3" fill="#111" stroke="none" stroke-width="1"/>
<rect x="184.5" y="423.8" width="14.9" height="3" fill="#111" stroke="none" stroke-width="1"/>
<rect x="207.7" y="423.8" width="14.9" height="3" fill="#111" stroke="none" stroke-width="1"/>
<rect x="80.95" y="433.05" width="146.6" height="28.2" fill="#e6e6e6" stroke="#1e1e1e" stroke-width="1.5"/>
<ellipse cx="99.2" cy="445.6" rx="9.5" ry="5.5" fill="#a4a4a4" opacity="1" filter="url(#b2)"/>
<ellipse cx="99.2" cy="445.4" rx="5.5" ry="2.25" fill="#8a8a8a" opacity="1" filter="url(#b1_5)"/>
<ellipse cx="120.7" cy="445.6" rx="9.5" ry="5.5" fill="#9c9c9c" opacity="1" filter="url(#b2)"/>
<ellipse cx="120.7" cy="445.4" rx="5.5" ry="2.25" fill="#7e7e7e" opacity="1" filter="url(#b1_5)"/>
<ellipse cx="145.1" cy="445.6" rx="10" ry="5.5" fill="#7a7a7a" opacity="1" filter="url(#b2)"/>
<ellipse cx="145.1" cy="445.4" rx="6" ry="2.25" fill="#444" opacity="1" filter="url(#b1_5)"/>
<ellipse cx="168.7" cy="445.6" rx="10" ry="5.5" fill="#767676" opacity="1" filter="url(#b2)"/>
<ellipse cx="168.7" cy="445.4" rx="6" ry="2.25" fill="#4a4a4a" opacity="1" filter="url(#b1_5)"/>
<ellipse cx="192.3" cy="445.6" rx="10" ry="5.5" fill="#7c7c7c" opacity="1" filter="url(#b2)"/>
<ellipse cx="192.3" cy="445.4" rx="6" ry="2.25" fill="#4e4e4e" opacity="1" filter="url(#b1_5)"/>
<ellipse cx="215.8" cy="445.6" rx="10.5" ry="5.5" fill="#5a5a5a" opacity="1" filter="url(#b2)"/>
<ellipse cx="215.8" cy="445.4" rx="6.5" ry="2.25" fill="#262626" opacity="1" filter="url(#b1_5)"/>
<rect x="80.05" y="466.05" width="147.5" height="26.4" fill="#efefef" stroke="#1e1e1e" stroke-width="1.5"/>
<rect x="87.8" y="473.95" width="21.6" height="8.5" rx="6.8" ry="4.25" fill="#1c1c1c" opacity="1" filter="url(#b0_8)"/>
<rect x="109.9" y="473.95" width="21.6" height="8.5" rx="6.8" ry="4.25" fill="#1c1c1c" opacity="1" filter="url(#b0_8)"/>
<rect x="133.5" y="473.95" width="22" height="8.5" rx="6.8" ry="4.25" fill="#1c1c1c" opacity="1" filter="url(#b0_8)"/>
<rect x="157.5" y="473.95" width="21.7" height="8.5" rx="6.8" ry="4.25" fill="#1c1c1c" opacity="1" filter="url(#b0_8)"/>
<rect x="182" y="473.95" width="20.8" height="8.5" rx="6.8" ry="4.25" fill="#1c1c1c" opacity="1" filter="url(#b0_8)"/>
<rect x="205.5" y="473.95" width="20.9" height="8.5" rx="6.8" ry="4.25" fill="#1c1c1c" opacity="1" filter="url(#b0_8)"/>
<rect x="80.05" y="504.75" width="147.5" height="28" fill="#a5a5a5" stroke="#1e1e1e" stroke-width="1.5"/>
<rect x="99.2" y="517.6" width="17" height="2.4" rx="1.92" ry="1.2" fill="#606060" opacity="1" filter="url(#b0_7)"/>
<rect x="123" y="517.5" width="16.8" height="2.6" rx="2.08" ry="1.3" fill="#505050" opacity="1" filter="url(#b0_7)"/>
<rect x="145.7" y="516.9" width="17.1" height="3.8" rx="3.04" ry="1.9" fill="#262626" opacity="1" filter="url(#b0_7)"/>
<rect x="168.7" y="517.1" width="15.9" height="3.4" rx="2.72" ry="1.7" fill="#363636" opacity="1" filter="url(#b0_7)"/>
<rect x="191.4" y="517.1" width="16.8" height="3.4" rx="2.72" ry="1.7" fill="#2a2a2a" opacity="1" filter="url(#b0_7)"/>
<rect x="79.15" y="540.95" width="148.4" height="25.7" fill="#b3b3b3" stroke="#1e1e1e" stroke-width="1.5"/>
<ellipse cx="109.5" cy="553.6" rx="10.5" ry="2.2" fill="#141414" opacity="1" filter="url(#b0_6)"/>
<rect x="102.5" y="551.7" width="14" height="3.8" rx="3.04" ry="1.9" fill="#141414" opacity="1" filter="url(#b0_6)"/>
<ellipse cx="133.5" cy="553.6" rx="10" ry="2" fill="#141414" opacity="1" filter="url(#b0_6)"/>
<rect x="127" y="551.9" width="13" height="3.4" rx="2.72" ry="1.7" fill="#141414" opacity="1" filter="url(#b0_6)"/>
<ellipse cx="155" cy="553.6" rx="10.3" ry="2.4" fill="#141414" opacity="1" filter="url(#b0_6)"/>
<rect x="148.2" y="551.5" width="13.6" height="4.2" rx="3.36" ry="2.1" fill="#141414" opacity="1" filter="url(#b0_6)"/>
<ellipse cx="176.2" cy="553.6" rx="10.7" ry="2.3" fill="#141414" opacity="1" filter="url(#b0_6)"/>
<rect x="169" y="551.6" width="14.4" height="4" rx="3.2" ry="2" fill="#141414" opacity="1" filter="url(#b0_6)"/>
<ellipse cx="199.4" cy="553.6" rx="10.7" ry="2.2" fill="#141414" opacity="1" filter="url(#b0_6)"/>
<rect x="192.2" y="551.7" width="14.4" height="3.8" rx="3.04" ry="1.9" fill="#141414" opacity="1" filter="url(#b0_6)"/>
<text x="69.3" y="452" font-size="14" text-anchor="end" fill="#161616">Uba80</text>
<text x="69.3" y="483.6" font-size="14" text-anchor="end" fill="#161616">GAPDH</text>
<text x="69.3" y="523.8" font-size="14" text-anchor="end" fill="#161616">Uba80</text>
<text x="69.3" y="558.6" font-size="14" text-anchor="end" fill="#161616">Actin</text>
<text x="12.3" y="462.6" font-size="14" text-anchor="middle" transform="rotate(-90 12.3 462.6)" fill="#161616">TU80-7</text>
<text x="12.3" y="536.5" font-size="14" text-anchor="middle" transform="rotate(-90 12.3 536.5)" fill="#161616">TU80-10</text>
<text x="260.8" y="362.2" font-size="16.5" text-anchor="start" font-weight="bold" fill="#000">d</text>
<text x="347" y="361.7" font-size="13.5" text-anchor="start" fill="#161616">tet</text>
<text x="397.7" y="361.2" font-size="13" text-anchor="middle" fill="#161616">+</text>
<text x="429.7" y="361.2" font-size="13" text-anchor="middle" fill="#161616">+</text>
<text x="460.5" y="361.2" font-size="13" text-anchor="middle" fill="#161616">-</text>
<text x="493.4" y="361.2" font-size="13" text-anchor="middle" fill="#161616">-</text>
<rect x="384.2" y="365.6" width="25" height="2" fill="#111" stroke="none" stroke-width="1"/>
<rect x="417.7" y="365.6" width="24.5" height="2" fill="#111" stroke="none" stroke-width="1"/>
<rect x="449.4" y="365.6" width="24.2" height="2" fill="#111" stroke="none" stroke-width="1"/>
<rect x="481.5" y="365.6" width="25" height="2" fill="#111" stroke="none" stroke-width="1"/>
<rect x="374.55" y="375.25" width="146.7" height="24.6" fill="#ababab" stroke="#1e1e1e" stroke-width="1.5"/>
<rect x="381.6" y="381.7" width="30" height="6.6" rx="5.28" ry="3.3" fill="#282828" opacity="1" filter="url(#b1_1)"/>
<rect x="415.35" y="381.7" width="30.5" height="6.6" rx="5.28" ry="3.3" fill="#282828" opacity="1" filter="url(#b1_1)"/>
<rect x="447" y="381.7" width="30" height="6.6" rx="5.28" ry="3.3" fill="#282828" opacity="1" filter="url(#b1_1)"/>
<rect x="480" y="381.85" width="30" height="7.5" rx="6" ry="3.75" fill="#222" opacity="1" filter="url(#b1)"/>
<rect x="450.5" y="390.7" width="25" height="3" rx="2.4" ry="1.5" fill="#4a4a4a" opacity="1" filter="url(#b0_9)"/>
<rect x="483.5" y="391" width="24" height="3.2" rx="2.56" ry="1.6" fill="#3c3c3c" opacity="1" filter="url(#b0_9)"/>
<rect x="374.55" y="405.95" width="146.7" height="21.8" fill="#b4b4b4" stroke="#1e1e1e" stroke-width="1.5"/>
<rect x="382.5" y="413.2" width="32" height="5.6" rx="4.48" ry="2.8" fill="#2e2e2e" opacity="1" filter="url(#b1_1)"/>
<rect x="414.5" y="413.2" width="32" height="5.6" rx="4.48" ry="2.8" fill="#2e2e2e" opacity="1" filter="url(#b1_1)"/>
<rect x="447.5" y="413.2" width="30" height="5.6" rx="4.48" ry="2.8" fill="#2e2e2e" opacity="1" filter="url(#b1_1)"/>
<rect x="479.5" y="413.2" width="31" height="5.6" rx="4.48" ry="2.8" fill="#2e2e2e" opacity="1" filter="url(#b1_1)"/>
<text x="365.7" y="392" font-size="14" text-anchor="end" fill="#161616">PARP</text>
<text x="365.7" y="421.4" font-size="14" text-anchor="end" fill="#161616">Tubulin</text>
<line x1="305" y1="446.4" x2="532" y2="446.4" stroke="#444" stroke-width="1.2"/>
<line x1="309.6" y1="446.4" x2="309.6" y2="593.5" stroke="#444" stroke-width="1.1"/>
<line x1="531.4" y1="446.4" x2="531.4" y2="593.5" stroke="#333" stroke-width="1.2"/>
<line x1="309.6" y1="593.5" x2="531.4" y2="593.5" stroke="#444" stroke-width="1.1"/>
<line x1="305" y1="593" x2="309.6" y2="593" stroke="#444" stroke-width="1.1"/>
<text x="300.3" y="597.9" font-size="14" text-anchor="end" fill="#161616">0</text>
<line x1="305" y1="556.35" x2="309.6" y2="556.35" stroke="#444" stroke-width="1.1"/>
<text x="300.3" y="561.25" font-size="14" text-anchor="end" fill="#161616">10</text>
<line x1="305" y1="519.7" x2="309.6" y2="519.7" stroke="#444" stroke-width="1.1"/>
<text x="300.3" y="524.6" font-size="14" text-anchor="end" fill="#161616">20</text>
<line x1="305" y1="483.05" x2="309.6" y2="483.05" stroke="#444" stroke-width="1.1"/>
<text x="300.3" y="487.95" font-size="14" text-anchor="end" fill="#161616">30</text>
<line x1="305" y1="446.4" x2="309.6" y2="446.4" stroke="#444" stroke-width="1.1"/>
<text x="300.3" y="451.3" font-size="14" text-anchor="end" fill="#161616">40</text>
<line x1="307.4" y1="574.675" x2="309.6" y2="574.675" stroke="#444" stroke-width="1.1"/>
<line x1="307.4" y1="538.025" x2="309.6" y2="538.025" stroke="#444" stroke-width="1.1"/>
<line x1="307.4" y1="501.375" x2="309.6" y2="501.375" stroke="#444" stroke-width="1.1"/>
<line x1="307.4" y1="464.725" x2="309.6" y2="464.725" stroke="#444" stroke-width="1.1"/>
<line x1="309.6" y1="593" x2="309.6" y2="597.3" stroke="#444" stroke-width="1.1"/>
<text x="309.6" y="613.2" font-size="14" text-anchor="middle" fill="#161616">0</text>
<line x1="353.7" y1="593" x2="353.7" y2="597.3" stroke="#444" stroke-width="1.1"/>
<text x="353.7" y="613.2" font-size="14" text-anchor="middle" fill="#161616">20</text>
<line x1="397.8" y1="593" x2="397.8" y2="597.3" stroke="#444" stroke-width="1.1"/>
<text x="397.8" y="613.2" font-size="14" text-anchor="middle" fill="#161616">40</text>
<line x1="441.9" y1="593" x2="441.9" y2="597.3" stroke="#444" stroke-width="1.1"/>
<text x="441.9" y="613.2" font-size="14" text-anchor="middle" fill="#161616">60</text>
<line x1="486" y1="593" x2="486" y2="597.3" stroke="#444" stroke-width="1.1"/>
<text x="486" y="613.2" font-size="14" text-anchor="middle" fill="#161616">80</text>
<line x1="530.1" y1="593" x2="530.1" y2="597.3" stroke="#444" stroke-width="1.1"/>
<text x="530.1" y="613.2" font-size="14" text-anchor="middle" fill="#161616">100</text>
<line x1="331.65" y1="593" x2="331.65" y2="595.5" stroke="#444" stroke-width="1.1"/>
<line x1="375.75" y1="593" x2="375.75" y2="595.5" stroke="#444" stroke-width="1.1"/>
<line x1="419.85" y1="593" x2="419.85" y2="595.5" stroke="#444" stroke-width="1.1"/>
<line x1="463.95" y1="593" x2="463.95" y2="595.5" stroke="#444" stroke-width="1.1"/>
<line x1="508.05" y1="593" x2="508.05" y2="595.5" stroke="#444" stroke-width="1.1"/>
<text x="420" y="633.6" font-size="14" text-anchor="middle" fill="#161616">Time (h)</text>
<text x="272.8" y="519.7" font-size="13.8" text-anchor="middle" transform="rotate(-90 272.8 519.7)" fill="#161616">Apoptotic cells (%)</text>
<line x1="464.5" y1="496.2" x2="464.5" y2="514.8" stroke="#111" stroke-width="1.2"/>
<line x1="462" y1="496.2" x2="467" y2="496.2" stroke="#111" stroke-width="1.3"/>
<line x1="462" y1="514.8" x2="467" y2="514.8" stroke="#111" stroke-width="1.3"/>
<line x1="523.2" y1="470.4" x2="523.2" y2="483.3" stroke="#111" stroke-width="1.2"/>
<line x1="520.7" y1="470.4" x2="525.7" y2="470.4" stroke="#111" stroke-width="1.3"/>
<line x1="520.7" y1="483.3" x2="525.7" y2="483.3" stroke="#111" stroke-width="1.3"/>
<line x1="469.6" y1="522" x2="469.6" y2="515.5" stroke="#111" stroke-width="1.2"/>
<line x1="467.4" y1="515.5" x2="471.8" y2="515.5" stroke="#111" stroke-width="1.3"/>
<polyline points="310,573 363.6,568.3 416,566.3 469.6,559.1 523.2,550.3" fill="none" stroke="#111" stroke-width="1.5" stroke-linejoin="round"/>
<polyline points="310,571 363.6,568.3 416,566.3 469.3,554.7 523.2,559.1" fill="none" stroke="#111" stroke-width="1.5" stroke-linejoin="round"/>
<polyline points="310,577.6 363.6,570.9 416,552.1 469.6,522 523.2,476.1" fill="none" stroke="#111" stroke-width="1.5" stroke-linejoin="round"/>
<polyline points="310,567.6 363.6,562.1 416,552.1 464.5,505.7 523.2,476.9" fill="none" stroke="#111" stroke-width="1.5" stroke-linejoin="round"/>
<rect x="306.3" y="569.3" width="7.4" height="7.4" fill="#fff" stroke="#111" stroke-width="1.3"/>
<rect x="359.9" y="564.6" width="7.4" height="7.4" fill="#fff" stroke="#111" stroke-width="1.3"/>
<rect x="412.3" y="562.6" width="7.4" height="7.4" fill="#fff" stroke="#111" stroke-width="1.3"/>
<rect x="465.9" y="555.4" width="7.4" height="7.4" fill="#fff" stroke="#111" stroke-width="1.3"/>
<rect x="519.5" y="546.6" width="7.4" height="7.4" fill="#fff" stroke="#111" stroke-width="1.3"/>
<rect x="306.3" y="567.3" width="7.4" height="7.4" fill="#111" stroke="#111" stroke-width="1.3"/>
<rect x="359.9" y="564.6" width="7.4" height="7.4" fill="#111" stroke="#111" stroke-width="1.3"/>
<rect x="412.3" y="562.6" width="7.4" height="7.4" fill="#111" stroke="#111" stroke-width="1.3"/>
<rect x="465.6" y="551" width="7.4" height="7.4" fill="#111" stroke="#111" stroke-width="1.3"/>
<rect x="519.5" y="555.4" width="7.4" height="7.4" fill="#111" stroke="#111" stroke-width="1.3"/>
<circle cx="310" cy="577.6" r="3.7" fill="#fff" stroke="#111" stroke-width="1.3"/>
<circle cx="363.6" cy="570.9" r="3.7" fill="#fff" stroke="#111" stroke-width="1.3"/>
<circle cx="416" cy="552.1" r="3.7" fill="#fff" stroke="#111" stroke-width="1.3"/>
<circle cx="469.6" cy="522" r="3.7" fill="#fff" stroke="#111" stroke-width="1.3"/>
<circle cx="523.2" cy="476.1" r="3.7" fill="#fff" stroke="#111" stroke-width="1.3"/>
<circle cx="310" cy="567.6" r="3.7" fill="#111" stroke="#111" stroke-width="1.3"/>
<circle cx="363.6" cy="562.1" r="3.7" fill="#111" stroke="#111" stroke-width="1.3"/>
<circle cx="416" cy="552.1" r="3.7" fill="#111" stroke="#111" stroke-width="1.3"/>
<circle cx="464.5" cy="505.7" r="3.7" fill="#111" stroke="#111" stroke-width="1.3"/>
<circle cx="523.2" cy="476.9" r="3.7" fill="#111" stroke="#111" stroke-width="1.3"/>
<line x1="314.8" y1="455.2" x2="352" y2="455.2" stroke="#111" stroke-width="1.4"/>
<circle cx="333.6" cy="455.2" r="3.7" fill="#fff" stroke="#111" stroke-width="1.3"/>
<text x="356.4" y="462.2" font-size="14" text-anchor="start" fill="#161616">TU80-7&#160;&#160;(tet -)</text>
<line x1="314.8" y1="471.1" x2="352" y2="471.1" stroke="#111" stroke-width="1.4"/>
<circle cx="333.6" cy="471.1" r="3.7" fill="#111" stroke="#111" stroke-width="1.3"/>
<text x="356.4" y="478.2" font-size="14" text-anchor="start" fill="#161616">TU80-10 (tet -)</text>
<line x1="314.8" y1="486.2" x2="352" y2="486.2" stroke="#111" stroke-width="1.4"/>
<rect x="329.9" y="482.5" width="7.4" height="7.4" fill="#fff" stroke="#111" stroke-width="1.3"/>
<text x="356.4" y="492.5" font-size="14" text-anchor="start" fill="#161616">TU80-7&#160;&#160;(tet +)</text>
<line x1="314.8" y1="500.8" x2="352" y2="500.8" stroke="#111" stroke-width="1.4"/>
<rect x="329.9" y="497.1" width="7.4" height="7.4" fill="#111" stroke="#111" stroke-width="1.3"/>
<text x="356.4" y="507" font-size="14" text-anchor="start" fill="#161616">TU80-10 (tet +)</text>
<text x="0" y="665.9" font-size="16.5" text-anchor="start" font-weight="bold" fill="#000">e</text>
<text x="163.5" y="706" font-size="13.5" text-anchor="start" transform="rotate(-44 163.5 706)" fill="#161616">NT</text>
<text x="191.8" y="705.5" font-size="13.5" text-anchor="start" transform="rotate(-44 191.8 705.5)" fill="#161616">shRNA1</text>
<text x="227" y="705.5" font-size="13.5" text-anchor="start" transform="rotate(-44 227 705.5)" fill="#161616">shRNA2</text>
<rect x="150" y="714.8" width="22" height="3.1" fill="#111" stroke="none" stroke-width="1"/>
<rect x="183.8" y="714.8" width="22.1" height="3.1" fill="#111" stroke="none" stroke-width="1"/>
<rect x="216.9" y="714.8" width="19.2" height="3.1" fill="#111" stroke="none" stroke-width="1"/>
<rect x="111.5" y="723.8" width="141.2" height="22.1" fill="#1e1e1e" stroke="#111" stroke-width="1.2"/>
<rect x="118" y="724.8" width="22" height="1.2" rx="0.96" ry="0.6" fill="#fff" opacity="0.25" filter="url(#b0_5)"/>
<rect x="118" y="726.5" width="22" height="1.2" rx="0.96" ry="0.6" fill="#fff" opacity="0.3" filter="url(#b0_5)"/>
<rect x="118" y="728.4" width="22" height="1.2" rx="0.96" ry="0.6" fill="#fff" opacity="0.35" filter="url(#b0_5)"/>
<rect x="118" y="731.1" width="22" height="1.2" rx="0.96" ry="0.6" fill="#fff" opacity="0.7" filter="url(#b0_5)"/>
<rect x="118" y="733.6" width="22" height="1.2" rx="0.96" ry="0.6" fill="#fff" opacity="0.3" filter="url(#b0_5)"/>
<rect x="118" y="736.3" width="22" height="1.2" rx="0.96" ry="0.6" fill="#fff" opacity="0.3" filter="url(#b0_5)"/>
<rect x="118" y="738.3" width="22" height="1.2" rx="0.96" ry="0.6" fill="#fff" opacity="0.25" filter="url(#b0_5)"/>
<rect x="118" y="740.7" width="22" height="1.2" rx="0.96" ry="0.6" fill="#fff" opacity="0.2" filter="url(#b0_5)"/>
<rect x="149.4" y="732.7" width="26" height="2.4" rx="1.92" ry="1.2" fill="#fff" opacity="1" filter="url(#b0_6)"/>
<rect x="148.4" y="731.65" width="28" height="4.5" rx="3.6" ry="2.25" fill="#aaa" opacity="0.5" filter="url(#b1_2)"/>
<rect x="184.5" y="733.45" width="22" height="1.5" rx="1.2" ry="0.75" fill="#888" opacity="0.8" filter="url(#b0_8)"/>
<rect x="218.3" y="733.45" width="22" height="1.5" rx="1.2" ry="0.75" fill="#777" opacity="0.8" filter="url(#b0_8)"/>
<rect x="112.8" y="750" width="138.4" height="13.8" fill="#383838" stroke="#111" stroke-width="1.2"/>
<rect x="119" y="752.7" width="22" height="1.2" rx="0.96" ry="0.6" fill="#fff" opacity="0.7" filter="url(#b0_5)"/>
<rect x="119" y="755.4" width="22" height="1.2" rx="0.96" ry="0.6" fill="#fff" opacity="0.45" filter="url(#b0_5)"/>
<rect x="119" y="757.9" width="22" height="1.2" rx="0.96" ry="0.6" fill="#fff" opacity="0.35" filter="url(#b0_5)"/>
<rect x="119" y="760.8" width="22" height="1.2" rx="0.96" ry="0.6" fill="#fff" opacity="0.35" filter="url(#b0_5)"/>
<rect x="150.4" y="756.5" width="25" height="2.2" rx="1.76" ry="1.1" fill="#fff" opacity="0.95" filter="url(#b0_6)"/>
<rect x="182.9" y="756.5" width="25" height="2.2" rx="1.76" ry="1.1" fill="#fff" opacity="0.95" filter="url(#b0_6)"/>
<rect x="215.9" y="756.5" width="25" height="2.2" rx="1.76" ry="1.1" fill="#fff" opacity="0.95" filter="url(#b0_6)"/>
<text x="101.5" y="740.2" font-size="14" text-anchor="end" fill="#161616">Uba80</text>
<text x="101.5" y="763" font-size="14" text-anchor="end" fill="#161616">GAPDH</text>
<rect x="141.05" y="776.85" width="116.6" height="25.7" fill="#a4a4a4" stroke="#1e1e1e" stroke-width="1.5"/>
<rect x="147.5" y="784.5" width="30" height="7" rx="5.6" ry="3.5" fill="#141414" opacity="1" filter="url(#b1)"/>
<rect x="181.7" y="788.1" width="28" height="3" rx="2.4" ry="1.5" fill="#333" opacity="1" filter="url(#b0_8)"/>
<rect x="215.5" y="788.7" width="27" height="3" rx="2.4" ry="1.5" fill="#333" opacity="1" filter="url(#b0_8)"/>
<rect x="141.05" y="807.35" width="116.6" height="26.1" fill="#a8a8a8" stroke="#1e1e1e" stroke-width="1.5"/>
<rect x="148" y="817.4" width="100" height="6" rx="4.8" ry="3" fill="#2a2a2a" opacity="1" filter="url(#b1_2)"/>
<rect x="141.05" y="838.35" width="116.6" height="26.5" fill="#a8a8a8" stroke="#1e1e1e" stroke-width="1.5"/>
<rect x="152.5" y="850.3" width="28" height="5" rx="4" ry="2.5" fill="#222" opacity="1" filter="url(#b1)"/>
<rect x="180" y="849.5" width="31" height="6.2" rx="4.96" ry="3.1" fill="#1e1e1e" opacity="1" filter="url(#b1)"/>
<rect x="213" y="850.3" width="31" height="5" rx="4" ry="2.5" fill="#262626" opacity="1" filter="url(#b1)"/>
<text x="130.7" y="797.5" font-size="14" text-anchor="end" fill="#161616">Uba80</text>
<text x="130.7" y="826.2" font-size="14" text-anchor="end" fill="#161616">Uba52</text>
<text x="130.7" y="854.8" font-size="14" text-anchor="end" fill="#161616">Tubulin</text>
<line x1="327.2" y1="662.5" x2="517.8" y2="662.5" stroke="#333" stroke-width="1.2"/>
<line x1="332" y1="662.5" x2="332" y2="866.2" stroke="#444" stroke-width="1.2"/>
<line x1="517.1" y1="662" x2="517.1" y2="866.2" stroke="#555" stroke-width="1.4"/>
<line x1="332" y1="865.7" x2="517.6" y2="865.7" stroke="#444" stroke-width="1.2"/>
<line x1="327.2" y1="865.7" x2="332" y2="865.7" stroke="#444" stroke-width="1.2"/>
<text x="323.3" y="870.6" font-size="14" text-anchor="end" fill="#161616">0</text>
<line x1="327.2" y1="814.8" x2="332" y2="814.8" stroke="#444" stroke-width="1.2"/>
<text x="323.3" y="819.7" font-size="14" text-anchor="end" fill="#161616">20</text>
<line x1="327.2" y1="763.9" x2="332" y2="763.9" stroke="#444" stroke-width="1.2"/>
<text x="323.3" y="768.8" font-size="14" text-anchor="end" fill="#161616">40</text>
<line x1="327.2" y1="713" x2="332" y2="713" stroke="#444" stroke-width="1.2"/>
<text x="323.3" y="717.9" font-size="14" text-anchor="end" fill="#161616">60</text>
<line x1="327.2" y1="662.1" x2="332" y2="662.1" stroke="#444" stroke-width="1.2"/>
<text x="323.3" y="667" font-size="14" text-anchor="end" fill="#161616">80</text>
<line x1="378" y1="865.7" x2="378" y2="869.5" stroke="#444" stroke-width="1.2"/>
<line x1="470" y1="865.7" x2="470" y2="869.5" stroke="#444" stroke-width="1.2"/>
<text x="378.6" y="885.5" font-size="14" text-anchor="middle" fill="#161616">Vehicle</text>
<text x="470" y="885.5" font-size="14" text-anchor="middle" fill="#161616">4HPR</text>
<text x="295.6" y="763.6" font-size="13.6" text-anchor="middle" transform="rotate(-90 295.6 763.6)" fill="#161616">Apoptotic cells (%)</text>
<line x1="354.25" y1="843.5" x2="354.25" y2="842" stroke="#111" stroke-width="1.6"/>
<line x1="351.25" y1="842" x2="357.25" y2="842" stroke="#111" stroke-width="1.8"/>
<rect x="346.5" y="844.5" width="15.5" height="21.2" fill="#fff" stroke="#111" stroke-width="2"/>
<line x1="379.35" y1="841.6" x2="379.35" y2="837.6" stroke="#111" stroke-width="1.6"/>
<line x1="374.85" y1="837.6" x2="383.85" y2="837.6" stroke="#111" stroke-width="1.8"/>
<rect x="371.5" y="842.6" width="15.7" height="23.1" fill="url(#hatch)" stroke="#111" stroke-width="2"/>
<line x1="404.8" y1="846.8" x2="404.8" y2="845.3" stroke="#111" stroke-width="1.6"/>
<line x1="400.8" y1="845.3" x2="408.8" y2="845.3" stroke="#111" stroke-width="1.8"/>
<rect x="396.6" y="847.8" width="16.4" height="17.9" fill="url(#check)" stroke="#111" stroke-width="2"/>
<line x1="445.95" y1="734" x2="445.95" y2="709.8" stroke="#111" stroke-width="1.6"/>
<line x1="441.45" y1="709.8" x2="450.45" y2="709.8" stroke="#111" stroke-width="1.8"/>
<rect x="438.3" y="735" width="15.3" height="130.7" fill="#fff" stroke="#111" stroke-width="2"/>
<line x1="471.15" y1="805" x2="471.15" y2="795.9" stroke="#111" stroke-width="1.6"/>
<line x1="466.65" y1="795.9" x2="475.65" y2="795.9" stroke="#111" stroke-width="1.8"/>
<rect x="463.5" y="806" width="15.3" height="59.7" fill="url(#hatch)" stroke="#111" stroke-width="2"/>
<line x1="496.65" y1="793.4" x2="496.65" y2="786" stroke="#111" stroke-width="1.6"/>
<line x1="492.15" y1="786" x2="501.15" y2="786" stroke="#111" stroke-width="1.8"/>
<rect x="489" y="794.4" width="15.3" height="71.3" fill="url(#check)" stroke="#111" stroke-width="2"/>
<polygon points="469.30,774.90 469.98,776.47 471.68,776.63 470.39,777.76 470.77,779.42 469.30,778.55 467.83,779.42 468.21,777.76 466.92,776.63 468.62,776.47" fill="#111"/>
<polygon points="474.70,774.90 475.38,776.47 477.08,776.63 475.79,777.76 476.17,779.42 474.70,778.55 473.23,779.42 473.61,777.76 472.32,776.63 474.02,776.47" fill="#111"/>
<polygon points="493.30,762.00 493.98,763.57 495.68,763.73 494.39,764.86 494.77,766.52 493.30,765.65 491.83,766.52 492.21,764.86 490.92,763.73 492.62,763.57" fill="#111"/>
<polygon points="498.70,762.00 499.38,763.57 501.08,763.73 499.79,764.86 500.17,766.52 498.70,765.65 497.23,766.52 497.61,764.86 496.32,763.73 498.02,763.57" fill="#111"/>
<rect x="351.1" y="673.5" width="24.6" height="9.1" fill="#fff" stroke="#111" stroke-width="1.6"/>
<text x="381.6" y="682.6" font-size="13.4" text-anchor="start" fill="#161616">NT</text>
<rect x="351.2" y="691" width="24.8" height="8.9" fill="url(#hatch2)" stroke="#111" stroke-width="1.6"/>
<text x="381.6" y="700.6" font-size="13.4" text-anchor="start" fill="#161616">shRNA1</text>
<rect x="351.6" y="709.8" width="24.9" height="9.2" fill="url(#check2)" stroke="#111" stroke-width="1.6"/>
<text x="381.6" y="719.3" font-size="13.4" text-anchor="start" fill="#161616">shRNA2</text>
</svg>
</body></html>
